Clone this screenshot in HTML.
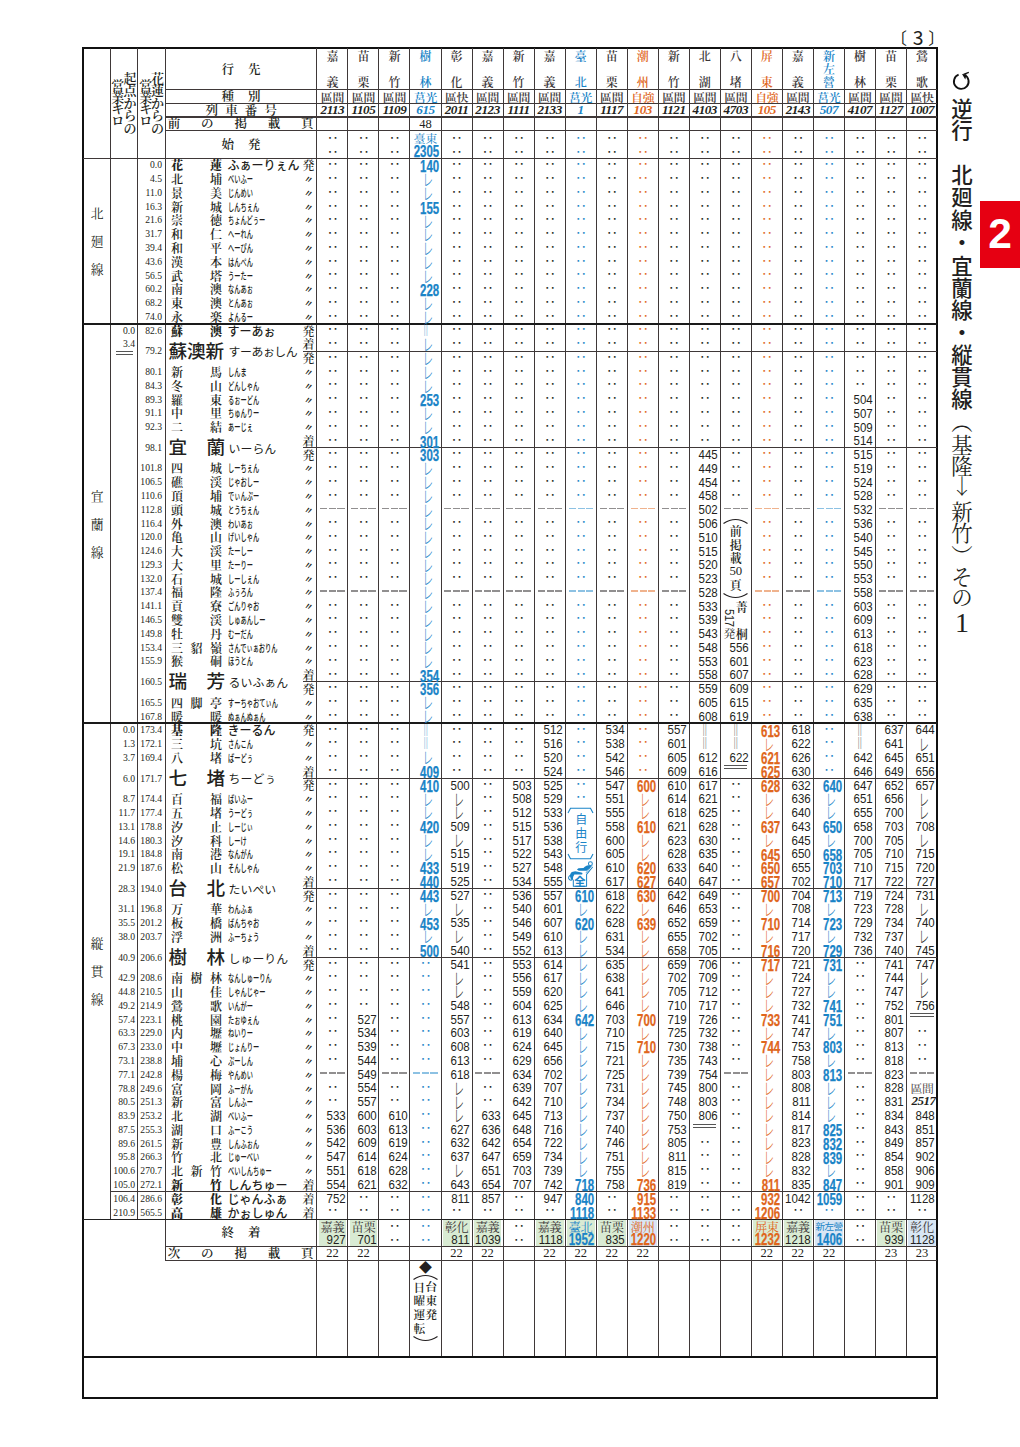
<!DOCTYPE html><html><head><meta charset="utf-8"><title>時刻表</title><style>
*{margin:0;padding:0;box-sizing:border-box}
html,body{width:1020px;height:1447px;background:#fff;overflow:hidden}
body{position:relative;color:#231f20;font-family:'Liberation Serif','Noto Serif CJK JP','Noto Serif CJK SC',serif}
.ln{position:absolute}
.a{position:absolute;white-space:nowrap}
.col{position:absolute;top:158.3px;width:31.03px}
.col>div{height:13.78px;line-height:13.78px;position:relative}
.t{font:13px/13.78px 'Liberation Sans','Noto Sans CJK JP','Noto Sans CJK SC',sans-serif;text-align:right;padding-right:2.6px;margin-left:-8px;transform:scaleX(.885);transform-origin:100% 50%;top:.8px}
.bb{font:bold 16px/13.78px 'Liberation Sans','Noto Sans CJK JP','Noto Sans CJK SC',sans-serif;text-align:right;padding-right:2.6px;margin-left:-16px;transform:scaleX(.716);transform-origin:100% 50%;-webkit-text-stroke:.25px currentColor;top:2.1px}
.d{font:bold 11px/13.78px 'Noto Sans CJK JP','Noto Sans CJK SC',sans-serif;text-align:center;padding-left:.6px;top:-1.1px}
.r{font:300 16.5px/13.78px 'Noto Sans CJK JP','Noto Sans CJK SC',sans-serif;text-align:center;padding-left:7.9px;transform:scaleX(.62);transform-origin:50% 50%;top:1.2px}
.v{font:12px/13.78px 'Noto Serif CJK JP','Noto Serif CJK SC',serif;text-align:center;transform:scaleX(1.25);opacity:.6;padding-left:.5px}
.h::before{content:'';position:absolute;left:3.4px;width:24.6px;top:50%;height:1.6px;margin-top:-1.7px;background:repeating-linear-gradient(90deg,currentColor 0 7.3px,transparent 7.3px 8.65px);opacity:.5}
.k{color:#231f20} .b{color:#1a84c7} .o{color:#e0661c}
.js{font-family:'Noto Serif CJK JP','Noto Serif CJK SC',serif}
.jg{font-family:'Noto Sans CJK JP','Noto Sans CJK SC',sans-serif}
.km{font:11.2px/13.78px 'Liberation Serif','Noto Serif CJK JP','Noto Serif CJK SC',serif;text-align:right;position:absolute;width:40px;transform:scaleX(.86);transform-origin:100% 50%}
.sn{font:600 12px/13.78px 'Noto Serif CJK JP','Noto Serif CJK SC',serif;position:absolute}
.rd{font:500 10.4px/13.78px 'Noto Sans CJK JP','Noto Sans CJK SC',sans-serif;position:absolute;transform:scaleX(.6);transform-origin:0 50%}
.rdb{font:500 12px/13.78px 'Noto Sans CJK JP','Noto Sans CJK SC',sans-serif;position:absolute}
.mk{font:700 12px/13.78px 'Noto Sans CJK JP','Noto Sans CJK SC',sans-serif;position:absolute;transform:rotate(20deg) scale(.7,.85)}
.mj{font:500 12px/13.78px 'Noto Serif CJK JP','Noto Serif CJK SC',serif;position:absolute}
</style></head><body>
<div class="ln" style="left:82px;top:47px;width:856px;height:2px;background:#111"></div>
<div class="ln" style="left:82px;top:1397px;width:856px;height:2px;background:#111"></div>
<div class="ln" style="left:82px;top:47px;width:2px;height:1352px;background:#111"></div>
<div class="ln" style="left:936px;top:47px;width:2px;height:1352px;background:#111"></div>
<div class="ln" style="left:110px;top:48px;width:1px;height:1172px;background:#3f3838"></div>
<div class="ln" style="left:137px;top:48px;width:1px;height:1172px;background:#3f3838"></div>
<div class="ln" style="left:165px;top:48px;width:1px;height:1213px;background:#3f3838"></div>
<div class="ln" style="left:316px;top:48px;width:1px;height:1309px;background:#3f3838"></div>
<div class="ln" style="left:347px;top:48px;width:1px;height:1309px;background:#3f3838"></div>
<div class="ln" style="left:378px;top:48px;width:1px;height:1309px;background:#3f3838"></div>
<div class="ln" style="left:409px;top:48px;width:1px;height:1309px;background:#3f3838"></div>
<div class="ln" style="left:441px;top:48px;width:1px;height:1309px;background:#3f3838"></div>
<div class="ln" style="left:472px;top:48px;width:1px;height:1309px;background:#3f3838"></div>
<div class="ln" style="left:503px;top:48px;width:1px;height:1309px;background:#3f3838"></div>
<div class="ln" style="left:534px;top:48px;width:1px;height:1309px;background:#3f3838"></div>
<div class="ln" style="left:565px;top:48px;width:1px;height:1309px;background:#3f3838"></div>
<div class="ln" style="left:596px;top:48px;width:1px;height:1309px;background:#3f3838"></div>
<div class="ln" style="left:627px;top:48px;width:1px;height:1309px;background:#3f3838"></div>
<div class="ln" style="left:658px;top:48px;width:1px;height:1309px;background:#3f3838"></div>
<div class="ln" style="left:689px;top:48px;width:1px;height:1309px;background:#3f3838"></div>
<div class="ln" style="left:720px;top:48px;width:1px;height:1309px;background:#3f3838"></div>
<div class="ln" style="left:751px;top:48px;width:1px;height:1309px;background:#3f3838"></div>
<div class="ln" style="left:782px;top:48px;width:1px;height:1309px;background:#3f3838"></div>
<div class="ln" style="left:813px;top:48px;width:1px;height:1309px;background:#3f3838"></div>
<div class="ln" style="left:844px;top:48px;width:1px;height:1309px;background:#3f3838"></div>
<div class="ln" style="left:875px;top:48px;width:1px;height:1309px;background:#3f3838"></div>
<div class="ln" style="left:906px;top:48px;width:1px;height:1309px;background:#3f3838"></div>
<div class="ln" style="left:166px;top:89px;width:771px;height:1px;background:#3f3838"></div>
<div class="ln" style="left:166px;top:103px;width:771px;height:1px;background:#3f3838"></div>
<div class="ln" style="left:166px;top:116px;width:771px;height:2px;background:#3f3838"></div>
<div class="ln" style="left:166px;top:130px;width:771px;height:1px;background:#3f3838"></div>
<div class="ln" style="left:83px;top:158px;width:854px;height:1px;background:#3f3838"></div>
<div class="ln" style="left:83px;top:323px;width:854px;height:2px;background:#1a1a1a"></div>
<div class="ln" style="left:83px;top:722px;width:854px;height:2px;background:#1a1a1a"></div>
<div class="ln" style="left:303px;top:351px;width:634px;height:1px;background:#3f3838"></div>
<div class="ln" style="left:303px;top:447px;width:634px;height:1px;background:#3f3838"></div>
<div class="ln" style="left:303px;top:681px;width:634px;height:1px;background:#3f3838"></div>
<div class="ln" style="left:303px;top:778px;width:634px;height:1px;background:#3f3838"></div>
<div class="ln" style="left:303px;top:888px;width:634px;height:1px;background:#3f3838"></div>
<div class="ln" style="left:303px;top:957px;width:634px;height:1px;background:#3f3838"></div>
<div class="ln" style="left:110px;top:1191px;width:827px;height:1px;background:#3f3838"></div>
<div class="ln" style="left:83px;top:1219px;width:854px;height:1px;background:#222"></div>
<div class="ln" style="left:166px;top:1246px;width:771px;height:1px;background:#3f3838"></div>
<div class="ln" style="left:166px;top:1260px;width:771px;height:1px;background:#3f3838"></div>
<div class="ln" style="left:83px;top:1356px;width:854px;height:2px;background:#111"></div>
<div class="a " style="left:221.5px;top:61.25px;font:600 12.5px/17.5px 'Noto Serif CJK JP','Noto Serif CJK SC',serif;width:12.5px;text-align:center;">行</div>
<div class="a " style="left:248px;top:61.25px;font:600 12.5px/17.5px 'Noto Serif CJK JP','Noto Serif CJK SC',serif;width:12.5px;text-align:center;">先</div>
<div class="a " style="left:221.5px;top:87.85px;font:600 12.5px/17.5px 'Noto Serif CJK JP','Noto Serif CJK SC',serif;width:12.5px;text-align:center;">種</div>
<div class="a " style="left:248px;top:87.85px;font:600 12.5px/17.5px 'Noto Serif CJK JP','Noto Serif CJK SC',serif;width:12.5px;text-align:center;">別</div>
<div class="a " style="left:205.5px;top:101.75px;font:600 12.5px/17.5px 'Noto Serif CJK JP','Noto Serif CJK SC',serif;width:12.5px;text-align:center;">列</div>
<div class="a " style="left:225.17px;top:101.75px;font:600 12.5px/17.5px 'Noto Serif CJK JP','Noto Serif CJK SC',serif;width:12.5px;text-align:center;">車</div>
<div class="a " style="left:244.83px;top:101.75px;font:600 12.5px/17.5px 'Noto Serif CJK JP','Noto Serif CJK SC',serif;width:12.5px;text-align:center;">番</div>
<div class="a " style="left:264.5px;top:101.75px;font:600 12.5px/17.5px 'Noto Serif CJK JP','Noto Serif CJK SC',serif;width:12.5px;text-align:center;">号</div>
<div class="a " style="left:167.8px;top:115.45px;font:600 12.5px/17.5px 'Noto Serif CJK JP','Noto Serif CJK SC',serif;width:12.5px;text-align:center;">前</div>
<div class="a " style="left:201.12px;top:115.45px;font:600 12.5px/17.5px 'Noto Serif CJK JP','Noto Serif CJK SC',serif;width:12.5px;text-align:center;">の</div>
<div class="a " style="left:234.45px;top:115.45px;font:600 12.5px/17.5px 'Noto Serif CJK JP','Noto Serif CJK SC',serif;width:12.5px;text-align:center;">掲</div>
<div class="a " style="left:267.78px;top:115.45px;font:600 12.5px/17.5px 'Noto Serif CJK JP','Noto Serif CJK SC',serif;width:12.5px;text-align:center;">載</div>
<div class="a " style="left:301.1px;top:115.45px;font:600 12.5px/17.5px 'Noto Serif CJK JP','Noto Serif CJK SC',serif;width:12.5px;text-align:center;">頁</div>
<div class="a " style="left:221.5px;top:136.25px;font:600 12.5px/17.5px 'Noto Serif CJK JP','Noto Serif CJK SC',serif;width:12.5px;text-align:center;">始</div>
<div class="a " style="left:248px;top:136.25px;font:600 12.5px/17.5px 'Noto Serif CJK JP','Noto Serif CJK SC',serif;width:12.5px;text-align:center;">発</div>
<div class="a " style="left:123.4px;top:69.9px;font:13px/15.6px 'Noto Serif CJK JP','Noto Serif CJK SC',serif;width:13px;text-align:center;color:#231f20;font-weight:600">起</div>
<div class="a " style="left:123.4px;top:82.35px;font:13px/15.6px 'Noto Serif CJK JP','Noto Serif CJK SC',serif;width:13px;text-align:center;color:#231f20;font-weight:600">点</div>
<div class="a " style="left:123.4px;top:94.8px;font:13px/15.6px 'Noto Serif CJK JP','Noto Serif CJK SC',serif;width:13px;text-align:center;color:#231f20;font-weight:600">か</div>
<div class="a " style="left:123.4px;top:107.25px;font:13px/15.6px 'Noto Serif CJK JP','Noto Serif CJK SC',serif;width:13px;text-align:center;color:#231f20;font-weight:600">ら</div>
<div class="a " style="left:123.4px;top:119.7px;font:13px/15.6px 'Noto Serif CJK JP','Noto Serif CJK SC',serif;width:13px;text-align:center;color:#231f20;font-weight:600">の</div>
<div class="a " style="left:111.2px;top:76.7px;font:13px/15.6px 'Noto Serif CJK JP','Noto Serif CJK SC',serif;width:13px;text-align:center;color:#231f20;font-weight:600">営</div>
<div class="a " style="left:111.2px;top:88.5px;font:13px/15.6px 'Noto Serif CJK JP','Noto Serif CJK SC',serif;width:13px;text-align:center;color:#231f20;font-weight:600">業</div>
<div class="a " style="left:111.2px;top:100.3px;font:13px/15.6px 'Noto Serif CJK JP','Noto Serif CJK SC',serif;width:13px;text-align:center;color:#231f20;font-weight:600">キ</div>
<div class="a " style="left:111.2px;top:112.1px;font:13px/15.6px 'Noto Serif CJK JP','Noto Serif CJK SC',serif;width:13px;text-align:center;color:#231f20;font-weight:600">ロ</div>
<div class="a " style="left:151px;top:69.9px;font:13px/15.6px 'Noto Serif CJK JP','Noto Serif CJK SC',serif;width:13px;text-align:center;color:#231f20;font-weight:600">花</div>
<div class="a " style="left:151px;top:82.35px;font:13px/15.6px 'Noto Serif CJK JP','Noto Serif CJK SC',serif;width:13px;text-align:center;color:#231f20;font-weight:600">蓮</div>
<div class="a " style="left:151px;top:94.8px;font:13px/15.6px 'Noto Serif CJK JP','Noto Serif CJK SC',serif;width:13px;text-align:center;color:#231f20;font-weight:600">か</div>
<div class="a " style="left:151px;top:107.25px;font:13px/15.6px 'Noto Serif CJK JP','Noto Serif CJK SC',serif;width:13px;text-align:center;color:#231f20;font-weight:600">ら</div>
<div class="a " style="left:151px;top:119.7px;font:13px/15.6px 'Noto Serif CJK JP','Noto Serif CJK SC',serif;width:13px;text-align:center;color:#231f20;font-weight:600">の</div>
<div class="a " style="left:139.2px;top:76.7px;font:13px/15.6px 'Noto Serif CJK JP','Noto Serif CJK SC',serif;width:13px;text-align:center;color:#231f20;font-weight:600">営</div>
<div class="a " style="left:139.2px;top:88.5px;font:13px/15.6px 'Noto Serif CJK JP','Noto Serif CJK SC',serif;width:13px;text-align:center;color:#231f20;font-weight:600">業</div>
<div class="a " style="left:139.2px;top:100.3px;font:13px/15.6px 'Noto Serif CJK JP','Noto Serif CJK SC',serif;width:13px;text-align:center;color:#231f20;font-weight:600">キ</div>
<div class="a " style="left:139.2px;top:112.1px;font:13px/15.6px 'Noto Serif CJK JP','Noto Serif CJK SC',serif;width:13px;text-align:center;color:#231f20;font-weight:600">ロ</div>
<div class="a " style="left:316.9px;top:49.3px;width:31.03px;text-align:center;font:600 12px/13px 'Noto Serif CJK JP','Noto Serif CJK SC',serif;color:#3a3536">嘉</div>
<div class="a " style="left:316.9px;top:75.2px;width:31.03px;text-align:center;font:600 12px/13px 'Noto Serif CJK JP','Noto Serif CJK SC',serif;color:#3a3536">義</div>
<div class="a " style="left:316.9px;top:89.6px;width:31.03px;text-align:center;font:600 11.9px/13px 'Noto Serif CJK JP','Noto Serif CJK SC',serif;color:#3a3536;letter-spacing:-.3px">區間</div>
<div class="a " style="left:316.9px;top:102.9px;width:31.03px;text-align:center;font:italic bold 13.2px/13.6px 'Liberation Serif','Noto Serif CJK JP','Noto Serif CJK SC',serif;color:#231f20;letter-spacing:-.5px">2113</div>
<div class="a " style="left:347.93px;top:49.3px;width:31.03px;text-align:center;font:600 12px/13px 'Noto Serif CJK JP','Noto Serif CJK SC',serif;color:#3a3536">苗</div>
<div class="a " style="left:347.93px;top:75.2px;width:31.03px;text-align:center;font:600 12px/13px 'Noto Serif CJK JP','Noto Serif CJK SC',serif;color:#3a3536">栗</div>
<div class="a " style="left:347.93px;top:89.6px;width:31.03px;text-align:center;font:600 11.9px/13px 'Noto Serif CJK JP','Noto Serif CJK SC',serif;color:#3a3536;letter-spacing:-.3px">區間</div>
<div class="a " style="left:347.93px;top:102.9px;width:31.03px;text-align:center;font:italic bold 13.2px/13.6px 'Liberation Serif','Noto Serif CJK JP','Noto Serif CJK SC',serif;color:#231f20;letter-spacing:-.5px">1105</div>
<div class="a " style="left:378.96px;top:49.3px;width:31.03px;text-align:center;font:600 12px/13px 'Noto Serif CJK JP','Noto Serif CJK SC',serif;color:#3a3536">新</div>
<div class="a " style="left:378.96px;top:75.2px;width:31.03px;text-align:center;font:600 12px/13px 'Noto Serif CJK JP','Noto Serif CJK SC',serif;color:#3a3536">竹</div>
<div class="a " style="left:378.96px;top:89.6px;width:31.03px;text-align:center;font:600 11.9px/13px 'Noto Serif CJK JP','Noto Serif CJK SC',serif;color:#3a3536;letter-spacing:-.3px">區間</div>
<div class="a " style="left:378.96px;top:102.9px;width:31.03px;text-align:center;font:italic bold 13.2px/13.6px 'Liberation Serif','Noto Serif CJK JP','Noto Serif CJK SC',serif;color:#231f20;letter-spacing:-.5px">1109</div>
<div class="a " style="left:409.99px;top:49.3px;width:31.03px;text-align:center;font:600 12px/13px 'Noto Serif CJK JP','Noto Serif CJK SC',serif;color:#1a84c7">樹</div>
<div class="a " style="left:409.99px;top:75.2px;width:31.03px;text-align:center;font:600 12px/13px 'Noto Serif CJK JP','Noto Serif CJK SC',serif;color:#1a84c7">林</div>
<div class="a " style="left:409.99px;top:89.6px;width:31.03px;text-align:center;font:600 11.9px/13px 'Noto Serif CJK JP','Noto Serif CJK SC',serif;color:#1a84c7;letter-spacing:-.3px">莒光</div>
<div class="a " style="left:409.99px;top:102.9px;width:31.03px;text-align:center;font:italic bold 13.2px/13.6px 'Liberation Serif','Noto Serif CJK JP','Noto Serif CJK SC',serif;color:#1a84c7;letter-spacing:-.5px">615</div>
<div class="a " style="left:441.02px;top:49.3px;width:31.03px;text-align:center;font:600 12px/13px 'Noto Serif CJK JP','Noto Serif CJK SC',serif;color:#3a3536">彰</div>
<div class="a " style="left:441.02px;top:75.2px;width:31.03px;text-align:center;font:600 12px/13px 'Noto Serif CJK JP','Noto Serif CJK SC',serif;color:#3a3536">化</div>
<div class="a " style="left:441.02px;top:89.6px;width:31.03px;text-align:center;font:600 11.9px/13px 'Noto Serif CJK JP','Noto Serif CJK SC',serif;color:#3a3536;letter-spacing:-.3px">區快</div>
<div class="a " style="left:441.02px;top:102.9px;width:31.03px;text-align:center;font:italic bold 13.2px/13.6px 'Liberation Serif','Noto Serif CJK JP','Noto Serif CJK SC',serif;color:#231f20;letter-spacing:-.5px">2011</div>
<div class="a " style="left:472.05px;top:49.3px;width:31.03px;text-align:center;font:600 12px/13px 'Noto Serif CJK JP','Noto Serif CJK SC',serif;color:#3a3536">嘉</div>
<div class="a " style="left:472.05px;top:75.2px;width:31.03px;text-align:center;font:600 12px/13px 'Noto Serif CJK JP','Noto Serif CJK SC',serif;color:#3a3536">義</div>
<div class="a " style="left:472.05px;top:89.6px;width:31.03px;text-align:center;font:600 11.9px/13px 'Noto Serif CJK JP','Noto Serif CJK SC',serif;color:#3a3536;letter-spacing:-.3px">區間</div>
<div class="a " style="left:472.05px;top:102.9px;width:31.03px;text-align:center;font:italic bold 13.2px/13.6px 'Liberation Serif','Noto Serif CJK JP','Noto Serif CJK SC',serif;color:#231f20;letter-spacing:-.5px">2123</div>
<div class="a " style="left:503.08px;top:49.3px;width:31.03px;text-align:center;font:600 12px/13px 'Noto Serif CJK JP','Noto Serif CJK SC',serif;color:#3a3536">新</div>
<div class="a " style="left:503.08px;top:75.2px;width:31.03px;text-align:center;font:600 12px/13px 'Noto Serif CJK JP','Noto Serif CJK SC',serif;color:#3a3536">竹</div>
<div class="a " style="left:503.08px;top:89.6px;width:31.03px;text-align:center;font:600 11.9px/13px 'Noto Serif CJK JP','Noto Serif CJK SC',serif;color:#3a3536;letter-spacing:-.3px">區間</div>
<div class="a " style="left:503.08px;top:102.9px;width:31.03px;text-align:center;font:italic bold 13.2px/13.6px 'Liberation Serif','Noto Serif CJK JP','Noto Serif CJK SC',serif;color:#231f20;letter-spacing:-.5px">1111</div>
<div class="a " style="left:534.11px;top:49.3px;width:31.03px;text-align:center;font:600 12px/13px 'Noto Serif CJK JP','Noto Serif CJK SC',serif;color:#3a3536">嘉</div>
<div class="a " style="left:534.11px;top:75.2px;width:31.03px;text-align:center;font:600 12px/13px 'Noto Serif CJK JP','Noto Serif CJK SC',serif;color:#3a3536">義</div>
<div class="a " style="left:534.11px;top:89.6px;width:31.03px;text-align:center;font:600 11.9px/13px 'Noto Serif CJK JP','Noto Serif CJK SC',serif;color:#3a3536;letter-spacing:-.3px">區間</div>
<div class="a " style="left:534.11px;top:102.9px;width:31.03px;text-align:center;font:italic bold 13.2px/13.6px 'Liberation Serif','Noto Serif CJK JP','Noto Serif CJK SC',serif;color:#231f20;letter-spacing:-.5px">2133</div>
<div class="a " style="left:565.14px;top:49.3px;width:31.03px;text-align:center;font:600 12px/13px 'Noto Serif CJK JP','Noto Serif CJK SC',serif;color:#1a84c7">臺</div>
<div class="a " style="left:565.14px;top:75.2px;width:31.03px;text-align:center;font:600 12px/13px 'Noto Serif CJK JP','Noto Serif CJK SC',serif;color:#1a84c7">北</div>
<div class="a " style="left:565.14px;top:89.6px;width:31.03px;text-align:center;font:600 11.9px/13px 'Noto Serif CJK JP','Noto Serif CJK SC',serif;color:#1a84c7;letter-spacing:-.3px">莒光</div>
<div class="a " style="left:565.14px;top:102.9px;width:31.03px;text-align:center;font:italic bold 13.2px/13.6px 'Liberation Serif','Noto Serif CJK JP','Noto Serif CJK SC',serif;color:#1a84c7;letter-spacing:-.5px">1</div>
<div class="a " style="left:596.17px;top:49.3px;width:31.03px;text-align:center;font:600 12px/13px 'Noto Serif CJK JP','Noto Serif CJK SC',serif;color:#3a3536">苗</div>
<div class="a " style="left:596.17px;top:75.2px;width:31.03px;text-align:center;font:600 12px/13px 'Noto Serif CJK JP','Noto Serif CJK SC',serif;color:#3a3536">栗</div>
<div class="a " style="left:596.17px;top:89.6px;width:31.03px;text-align:center;font:600 11.9px/13px 'Noto Serif CJK JP','Noto Serif CJK SC',serif;color:#3a3536;letter-spacing:-.3px">區間</div>
<div class="a " style="left:596.17px;top:102.9px;width:31.03px;text-align:center;font:italic bold 13.2px/13.6px 'Liberation Serif','Noto Serif CJK JP','Noto Serif CJK SC',serif;color:#231f20;letter-spacing:-.5px">1117</div>
<div class="a " style="left:627.2px;top:49.3px;width:31.03px;text-align:center;font:600 12px/13px 'Noto Serif CJK JP','Noto Serif CJK SC',serif;color:#e0661c">潮</div>
<div class="a " style="left:627.2px;top:75.2px;width:31.03px;text-align:center;font:600 12px/13px 'Noto Serif CJK JP','Noto Serif CJK SC',serif;color:#e0661c">州</div>
<div class="a " style="left:627.2px;top:89.6px;width:31.03px;text-align:center;font:600 11.9px/13px 'Noto Serif CJK JP','Noto Serif CJK SC',serif;color:#e0661c;letter-spacing:-.3px">自強</div>
<div class="a " style="left:627.2px;top:102.9px;width:31.03px;text-align:center;font:italic bold 13.2px/13.6px 'Liberation Serif','Noto Serif CJK JP','Noto Serif CJK SC',serif;color:#e0661c;letter-spacing:-.5px">103</div>
<div class="a " style="left:658.23px;top:49.3px;width:31.03px;text-align:center;font:600 12px/13px 'Noto Serif CJK JP','Noto Serif CJK SC',serif;color:#3a3536">新</div>
<div class="a " style="left:658.23px;top:75.2px;width:31.03px;text-align:center;font:600 12px/13px 'Noto Serif CJK JP','Noto Serif CJK SC',serif;color:#3a3536">竹</div>
<div class="a " style="left:658.23px;top:89.6px;width:31.03px;text-align:center;font:600 11.9px/13px 'Noto Serif CJK JP','Noto Serif CJK SC',serif;color:#3a3536;letter-spacing:-.3px">區間</div>
<div class="a " style="left:658.23px;top:102.9px;width:31.03px;text-align:center;font:italic bold 13.2px/13.6px 'Liberation Serif','Noto Serif CJK JP','Noto Serif CJK SC',serif;color:#231f20;letter-spacing:-.5px">1121</div>
<div class="a " style="left:689.26px;top:49.3px;width:31.03px;text-align:center;font:600 12px/13px 'Noto Serif CJK JP','Noto Serif CJK SC',serif;color:#3a3536">北</div>
<div class="a " style="left:689.26px;top:75.2px;width:31.03px;text-align:center;font:600 12px/13px 'Noto Serif CJK JP','Noto Serif CJK SC',serif;color:#3a3536">湖</div>
<div class="a " style="left:689.26px;top:89.6px;width:31.03px;text-align:center;font:600 11.9px/13px 'Noto Serif CJK JP','Noto Serif CJK SC',serif;color:#3a3536;letter-spacing:-.3px">區間</div>
<div class="a " style="left:689.26px;top:102.9px;width:31.03px;text-align:center;font:italic bold 13.2px/13.6px 'Liberation Serif','Noto Serif CJK JP','Noto Serif CJK SC',serif;color:#231f20;letter-spacing:-.5px">4103</div>
<div class="a " style="left:720.29px;top:49.3px;width:31.03px;text-align:center;font:600 12px/13px 'Noto Serif CJK JP','Noto Serif CJK SC',serif;color:#3a3536">八</div>
<div class="a " style="left:720.29px;top:75.2px;width:31.03px;text-align:center;font:600 12px/13px 'Noto Serif CJK JP','Noto Serif CJK SC',serif;color:#3a3536">堵</div>
<div class="a " style="left:720.29px;top:89.6px;width:31.03px;text-align:center;font:600 11.9px/13px 'Noto Serif CJK JP','Noto Serif CJK SC',serif;color:#3a3536;letter-spacing:-.3px">區間</div>
<div class="a " style="left:720.29px;top:102.9px;width:31.03px;text-align:center;font:italic bold 13.2px/13.6px 'Liberation Serif','Noto Serif CJK JP','Noto Serif CJK SC',serif;color:#231f20;letter-spacing:-.5px">4703</div>
<div class="a " style="left:751.32px;top:49.3px;width:31.03px;text-align:center;font:600 12px/13px 'Noto Serif CJK JP','Noto Serif CJK SC',serif;color:#e0661c">屏</div>
<div class="a " style="left:751.32px;top:75.2px;width:31.03px;text-align:center;font:600 12px/13px 'Noto Serif CJK JP','Noto Serif CJK SC',serif;color:#e0661c">東</div>
<div class="a " style="left:751.32px;top:89.6px;width:31.03px;text-align:center;font:600 11.9px/13px 'Noto Serif CJK JP','Noto Serif CJK SC',serif;color:#e0661c;letter-spacing:-.3px">自強</div>
<div class="a " style="left:751.32px;top:102.9px;width:31.03px;text-align:center;font:italic bold 13.2px/13.6px 'Liberation Serif','Noto Serif CJK JP','Noto Serif CJK SC',serif;color:#e0661c;letter-spacing:-.5px">105</div>
<div class="a " style="left:782.35px;top:49.3px;width:31.03px;text-align:center;font:600 12px/13px 'Noto Serif CJK JP','Noto Serif CJK SC',serif;color:#3a3536">嘉</div>
<div class="a " style="left:782.35px;top:75.2px;width:31.03px;text-align:center;font:600 12px/13px 'Noto Serif CJK JP','Noto Serif CJK SC',serif;color:#3a3536">義</div>
<div class="a " style="left:782.35px;top:89.6px;width:31.03px;text-align:center;font:600 11.9px/13px 'Noto Serif CJK JP','Noto Serif CJK SC',serif;color:#3a3536;letter-spacing:-.3px">區間</div>
<div class="a " style="left:782.35px;top:102.9px;width:31.03px;text-align:center;font:italic bold 13.2px/13.6px 'Liberation Serif','Noto Serif CJK JP','Noto Serif CJK SC',serif;color:#231f20;letter-spacing:-.5px">2143</div>
<div class="a " style="left:813.38px;top:49px;width:31.03px;text-align:center;font:600 12px/13px 'Noto Serif CJK JP','Noto Serif CJK SC',serif;color:#1a84c7">新</div>
<div class="a " style="left:813.38px;top:62.2px;width:31.03px;text-align:center;font:600 12px/13px 'Noto Serif CJK JP','Noto Serif CJK SC',serif;color:#1a84c7">左</div>
<div class="a " style="left:813.38px;top:75.4px;width:31.03px;text-align:center;font:600 12px/13px 'Noto Serif CJK JP','Noto Serif CJK SC',serif;color:#1a84c7">營</div>
<div class="a " style="left:813.38px;top:89.6px;width:31.03px;text-align:center;font:600 11.9px/13px 'Noto Serif CJK JP','Noto Serif CJK SC',serif;color:#1a84c7;letter-spacing:-.3px">莒光</div>
<div class="a " style="left:813.38px;top:102.9px;width:31.03px;text-align:center;font:italic bold 13.2px/13.6px 'Liberation Serif','Noto Serif CJK JP','Noto Serif CJK SC',serif;color:#1a84c7;letter-spacing:-.5px">507</div>
<div class="a " style="left:844.41px;top:49.3px;width:31.03px;text-align:center;font:600 12px/13px 'Noto Serif CJK JP','Noto Serif CJK SC',serif;color:#3a3536">樹</div>
<div class="a " style="left:844.41px;top:75.2px;width:31.03px;text-align:center;font:600 12px/13px 'Noto Serif CJK JP','Noto Serif CJK SC',serif;color:#3a3536">林</div>
<div class="a " style="left:844.41px;top:89.6px;width:31.03px;text-align:center;font:600 11.9px/13px 'Noto Serif CJK JP','Noto Serif CJK SC',serif;color:#3a3536;letter-spacing:-.3px">區間</div>
<div class="a " style="left:844.41px;top:102.9px;width:31.03px;text-align:center;font:italic bold 13.2px/13.6px 'Liberation Serif','Noto Serif CJK JP','Noto Serif CJK SC',serif;color:#231f20;letter-spacing:-.5px">4107</div>
<div class="a " style="left:875.44px;top:49.3px;width:31.03px;text-align:center;font:600 12px/13px 'Noto Serif CJK JP','Noto Serif CJK SC',serif;color:#3a3536">苗</div>
<div class="a " style="left:875.44px;top:75.2px;width:31.03px;text-align:center;font:600 12px/13px 'Noto Serif CJK JP','Noto Serif CJK SC',serif;color:#3a3536">栗</div>
<div class="a " style="left:875.44px;top:89.6px;width:31.03px;text-align:center;font:600 11.9px/13px 'Noto Serif CJK JP','Noto Serif CJK SC',serif;color:#3a3536;letter-spacing:-.3px">區間</div>
<div class="a " style="left:875.44px;top:102.9px;width:31.03px;text-align:center;font:italic bold 13.2px/13.6px 'Liberation Serif','Noto Serif CJK JP','Noto Serif CJK SC',serif;color:#231f20;letter-spacing:-.5px">1127</div>
<div class="a " style="left:906.47px;top:49.3px;width:31.03px;text-align:center;font:600 12px/13px 'Noto Serif CJK JP','Noto Serif CJK SC',serif;color:#3a3536">鶯</div>
<div class="a " style="left:906.47px;top:75.2px;width:31.03px;text-align:center;font:600 12px/13px 'Noto Serif CJK JP','Noto Serif CJK SC',serif;color:#3a3536">歌</div>
<div class="a " style="left:906.47px;top:89.6px;width:31.03px;text-align:center;font:600 11.9px/13px 'Noto Serif CJK JP','Noto Serif CJK SC',serif;color:#3a3536;letter-spacing:-.3px">區快</div>
<div class="a " style="left:906.47px;top:102.9px;width:31.03px;text-align:center;font:italic bold 13.2px/13.6px 'Liberation Serif','Noto Serif CJK JP','Noto Serif CJK SC',serif;color:#231f20;letter-spacing:-.5px">1007</div>
<div class="a " style="left:409.99px;top:117.6px;width:31.03px;text-align:center;font:12.5px/13.2px 'Liberation Serif','Noto Serif CJK JP','Noto Serif CJK SC',serif">48</div>
<div class="a d k" style="left:316.9px;top:130.74px;width:31.03px;height:13.78px">‥</div>
<div class="a d k" style="left:316.9px;top:144.52px;width:31.03px;height:13.78px">‥</div>
<div class="a d k" style="left:347.93px;top:130.74px;width:31.03px;height:13.78px">‥</div>
<div class="a d k" style="left:347.93px;top:144.52px;width:31.03px;height:13.78px">‥</div>
<div class="a d k" style="left:378.96px;top:130.74px;width:31.03px;height:13.78px">‥</div>
<div class="a d k" style="left:378.96px;top:144.52px;width:31.03px;height:13.78px">‥</div>
<div class="a " style="left:409.99px;top:131px;width:31.03px;text-align:center;font:11.8px/13.5px 'Noto Serif CJK JP','Noto Serif CJK SC',serif;color:#1a84c7">臺東</div>
<div class="a bb b" style="left:409.99px;top:144.52px;width:47.03px;height:13.78px">2305</div>
<div class="a d k" style="left:441.02px;top:130.74px;width:31.03px;height:13.78px">‥</div>
<div class="a d k" style="left:441.02px;top:144.52px;width:31.03px;height:13.78px">‥</div>
<div class="a d k" style="left:472.05px;top:130.74px;width:31.03px;height:13.78px">‥</div>
<div class="a d k" style="left:472.05px;top:144.52px;width:31.03px;height:13.78px">‥</div>
<div class="a d k" style="left:503.08px;top:130.74px;width:31.03px;height:13.78px">‥</div>
<div class="a d k" style="left:503.08px;top:144.52px;width:31.03px;height:13.78px">‥</div>
<div class="a d k" style="left:534.11px;top:130.74px;width:31.03px;height:13.78px">‥</div>
<div class="a d k" style="left:534.11px;top:144.52px;width:31.03px;height:13.78px">‥</div>
<div class="a d b" style="left:565.14px;top:130.74px;width:31.03px;height:13.78px">‥</div>
<div class="a d b" style="left:565.14px;top:144.52px;width:31.03px;height:13.78px">‥</div>
<div class="a d k" style="left:596.17px;top:130.74px;width:31.03px;height:13.78px">‥</div>
<div class="a d k" style="left:596.17px;top:144.52px;width:31.03px;height:13.78px">‥</div>
<div class="a d o" style="left:627.2px;top:130.74px;width:31.03px;height:13.78px">‥</div>
<div class="a d o" style="left:627.2px;top:144.52px;width:31.03px;height:13.78px">‥</div>
<div class="a d k" style="left:658.23px;top:130.74px;width:31.03px;height:13.78px">‥</div>
<div class="a d k" style="left:658.23px;top:144.52px;width:31.03px;height:13.78px">‥</div>
<div class="a d k" style="left:689.26px;top:130.74px;width:31.03px;height:13.78px">‥</div>
<div class="a d k" style="left:689.26px;top:144.52px;width:31.03px;height:13.78px">‥</div>
<div class="a d k" style="left:720.29px;top:130.74px;width:31.03px;height:13.78px">‥</div>
<div class="a d k" style="left:720.29px;top:144.52px;width:31.03px;height:13.78px">‥</div>
<div class="a d o" style="left:751.32px;top:130.74px;width:31.03px;height:13.78px">‥</div>
<div class="a d o" style="left:751.32px;top:144.52px;width:31.03px;height:13.78px">‥</div>
<div class="a d k" style="left:782.35px;top:130.74px;width:31.03px;height:13.78px">‥</div>
<div class="a d k" style="left:782.35px;top:144.52px;width:31.03px;height:13.78px">‥</div>
<div class="a d b" style="left:813.38px;top:130.74px;width:31.03px;height:13.78px">‥</div>
<div class="a d b" style="left:813.38px;top:144.52px;width:31.03px;height:13.78px">‥</div>
<div class="a d k" style="left:844.41px;top:130.74px;width:31.03px;height:13.78px">‥</div>
<div class="a d k" style="left:844.41px;top:144.52px;width:31.03px;height:13.78px">‥</div>
<div class="a d k" style="left:875.44px;top:130.74px;width:31.03px;height:13.78px">‥</div>
<div class="a d k" style="left:875.44px;top:144.52px;width:31.03px;height:13.78px">‥</div>
<div class="a d k" style="left:906.47px;top:130.74px;width:31.03px;height:13.78px">‥</div>
<div class="a d k" style="left:906.47px;top:144.52px;width:31.03px;height:13.78px">‥</div>
<div class="col k" style="left:316.9px"><div class="d">‥</div><div class="d">‥</div><div class="d">‥</div><div class="d">‥</div><div class="d">‥</div><div class="d">‥</div><div class="d">‥</div><div class="d">‥</div><div class="d">‥</div><div class="d">‥</div><div class="d">‥</div><div class="d">‥</div><div class="d">‥</div><div class="d">‥</div><div class="d">‥</div><div class="d">‥</div><div class="d">‥</div><div class="d">‥</div><div class="d">‥</div><div class="d">‥</div><div class="d">‥</div><div class="d">‥</div><div class="d">‥</div><div class="d">‥</div><div class="d">‥</div><div class="h"></div><div class="d">‥</div><div class="d">‥</div><div class="d">‥</div><div class="d">‥</div><div class="d">‥</div><div class="h"></div><div class="d">‥</div><div class="d">‥</div><div class="d">‥</div><div class="d">‥</div><div class="d">‥</div><div class="d">‥</div><div class="d">‥</div><div class="d">‥</div><div class="d">‥</div><div class="d">‥</div><div class="d">‥</div><div class="d">‥</div><div class="d">‥</div><div class="d">‥</div><div class="d">‥</div><div class="d">‥</div><div class="d">‥</div><div class="d">‥</div><div class="d">‥</div><div class="d">‥</div><div class="d">‥</div><div class="d">‥</div><div class="d">‥</div><div class="d">‥</div><div class="d">‥</div><div class="d">‥</div><div class="d">‥</div><div class="d">‥</div><div class="d">‥</div><div class="d">‥</div><div class="d">‥</div><div class="d">‥</div><div class="d">‥</div><div class="d">‥</div><div class="h"></div><div class="d">‥</div><div class="d">‥</div><div class="t">533</div><div class="t">536</div><div class="t">542</div><div class="t">547</div><div class="t">551</div><div class="t">554</div><div class="t">752</div><div class="d">‥</div></div>
<div class="col k" style="left:347.93px"><div class="d">‥</div><div class="d">‥</div><div class="d">‥</div><div class="d">‥</div><div class="d">‥</div><div class="d">‥</div><div class="d">‥</div><div class="d">‥</div><div class="d">‥</div><div class="d">‥</div><div class="d">‥</div><div class="d">‥</div><div class="d">‥</div><div class="d">‥</div><div class="d">‥</div><div class="d">‥</div><div class="d">‥</div><div class="d">‥</div><div class="d">‥</div><div class="d">‥</div><div class="d">‥</div><div class="d">‥</div><div class="d">‥</div><div class="d">‥</div><div class="d">‥</div><div class="h"></div><div class="d">‥</div><div class="d">‥</div><div class="d">‥</div><div class="d">‥</div><div class="d">‥</div><div class="h"></div><div class="d">‥</div><div class="d">‥</div><div class="d">‥</div><div class="d">‥</div><div class="d">‥</div><div class="d">‥</div><div class="d">‥</div><div class="d">‥</div><div class="d">‥</div><div class="d">‥</div><div class="d">‥</div><div class="d">‥</div><div class="d">‥</div><div class="d">‥</div><div class="d">‥</div><div class="d">‥</div><div class="d">‥</div><div class="d">‥</div><div class="d">‥</div><div class="d">‥</div><div class="d">‥</div><div class="d">‥</div><div class="d">‥</div><div class="d">‥</div><div class="d">‥</div><div class="d">‥</div><div class="d">‥</div><div class="d">‥</div><div class="d">‥</div><div class="d">‥</div><div class="t">527</div><div class="t">534</div><div class="t">539</div><div class="t">544</div><div class="t">549</div><div class="t">554</div><div class="t">557</div><div class="t">600</div><div class="t">603</div><div class="t">609</div><div class="t">614</div><div class="t">618</div><div class="t">621</div><div class="d">‥</div><div class="d">‥</div></div>
<div class="col k" style="left:378.96px"><div class="d">‥</div><div class="d">‥</div><div class="d">‥</div><div class="d">‥</div><div class="d">‥</div><div class="d">‥</div><div class="d">‥</div><div class="d">‥</div><div class="d">‥</div><div class="d">‥</div><div class="d">‥</div><div class="d">‥</div><div class="d">‥</div><div class="d">‥</div><div class="d">‥</div><div class="d">‥</div><div class="d">‥</div><div class="d">‥</div><div class="d">‥</div><div class="d">‥</div><div class="d">‥</div><div class="d">‥</div><div class="d">‥</div><div class="d">‥</div><div class="d">‥</div><div class="h"></div><div class="d">‥</div><div class="d">‥</div><div class="d">‥</div><div class="d">‥</div><div class="d">‥</div><div class="h"></div><div class="d">‥</div><div class="d">‥</div><div class="d">‥</div><div class="d">‥</div><div class="d">‥</div><div class="d">‥</div><div class="d">‥</div><div class="d">‥</div><div class="d">‥</div><div class="d">‥</div><div class="d">‥</div><div class="d">‥</div><div class="d">‥</div><div class="d">‥</div><div class="d">‥</div><div class="d">‥</div><div class="d">‥</div><div class="d">‥</div><div class="d">‥</div><div class="d">‥</div><div class="d">‥</div><div class="d">‥</div><div class="d">‥</div><div class="d">‥</div><div class="d">‥</div><div class="d">‥</div><div class="d">‥</div><div class="d">‥</div><div class="d">‥</div><div class="d">‥</div><div class="d">‥</div><div class="d">‥</div><div class="d">‥</div><div class="d">‥</div><div class="h"></div><div class="d">‥</div><div class="d">‥</div><div class="t">610</div><div class="t">613</div><div class="t">619</div><div class="t">624</div><div class="t">628</div><div class="t">632</div><div class="d">‥</div><div class="d">‥</div></div>
<div class="col b" style="left:409.99px"><div class="bb">140</div><div class="r">レ</div><div class="r">レ</div><div class="bb">155</div><div class="r">レ</div><div class="r">レ</div><div class="r">レ</div><div class="r">レ</div><div class="r">レ</div><div class="bb">228</div><div class="r">レ</div><div class="r">レ</div><div class="v">‖</div><div class="r">レ</div><div class="r">レ</div><div class="r">レ</div><div class="r">レ</div><div class="bb">253</div><div class="r">レ</div><div class="r">レ</div><div class="bb">301</div><div class="bb">303</div><div class="r">レ</div><div class="r">レ</div><div class="r">レ</div><div class="r">レ</div><div class="r">レ</div><div class="r">レ</div><div class="r">レ</div><div class="r">レ</div><div class="r">レ</div><div class="r">レ</div><div class="r">レ</div><div class="r">レ</div><div class="r">レ</div><div class="r">レ</div><div class="r">レ</div><div class="bb">354</div><div class="bb">356</div><div class="r">レ</div><div class="r">レ</div><div class="v">‖</div><div class="v">‖</div><div class="r">レ</div><div class="bb">409</div><div class="bb">410</div><div class="r">レ</div><div class="r">レ</div><div class="bb">420</div><div class="r">レ</div><div class="r">レ</div><div class="bb">433</div><div class="bb">440</div><div class="bb">443</div><div class="r">レ</div><div class="bb">453</div><div class="r">レ</div><div class="bb">500</div><div class="d">‥</div><div class="d">‥</div><div class="d">‥</div><div class="d">‥</div><div class="d">‥</div><div class="d">‥</div><div class="d">‥</div><div class="d">‥</div><div class="h"></div><div class="d">‥</div><div class="d">‥</div><div class="d">‥</div><div class="d">‥</div><div class="d">‥</div><div class="d">‥</div><div class="d">‥</div><div class="d">‥</div><div class="d">‥</div><div class="d">‥</div></div>
<div class="col k" style="left:441.02px"><div class="d">‥</div><div class="d">‥</div><div class="d">‥</div><div class="d">‥</div><div class="d">‥</div><div class="d">‥</div><div class="d">‥</div><div class="d">‥</div><div class="d">‥</div><div class="d">‥</div><div class="d">‥</div><div class="d">‥</div><div class="d">‥</div><div class="d">‥</div><div class="d">‥</div><div class="d">‥</div><div class="d">‥</div><div class="d">‥</div><div class="d">‥</div><div class="d">‥</div><div class="d">‥</div><div class="d">‥</div><div class="d">‥</div><div class="d">‥</div><div class="d">‥</div><div class="h"></div><div class="d">‥</div><div class="d">‥</div><div class="d">‥</div><div class="d">‥</div><div class="d">‥</div><div class="h"></div><div class="d">‥</div><div class="d">‥</div><div class="d">‥</div><div class="d">‥</div><div class="d">‥</div><div class="d">‥</div><div class="d">‥</div><div class="d">‥</div><div class="d">‥</div><div class="d">‥</div><div class="d">‥</div><div class="d">‥</div><div class="d">‥</div><div class="t">500</div><div class="r">レ</div><div class="r">レ</div><div class="t">509</div><div class="r">レ</div><div class="t">515</div><div class="t">519</div><div class="t">525</div><div class="t">527</div><div class="r">レ</div><div class="t">535</div><div class="r">レ</div><div class="t">540</div><div class="t">541</div><div class="r">レ</div><div class="r">レ</div><div class="t">548</div><div class="t">557</div><div class="t">603</div><div class="t">608</div><div class="t">613</div><div class="t">618</div><div class="r">レ</div><div class="r">レ</div><div class="r">レ</div><div class="t">627</div><div class="t">632</div><div class="t">637</div><div class="r">レ</div><div class="t">643</div><div class="t">811</div><div class="d">‥</div></div>
<div class="col k" style="left:472.05px"><div class="d">‥</div><div class="d">‥</div><div class="d">‥</div><div class="d">‥</div><div class="d">‥</div><div class="d">‥</div><div class="d">‥</div><div class="d">‥</div><div class="d">‥</div><div class="d">‥</div><div class="d">‥</div><div class="d">‥</div><div class="d">‥</div><div class="d">‥</div><div class="d">‥</div><div class="d">‥</div><div class="d">‥</div><div class="d">‥</div><div class="d">‥</div><div class="d">‥</div><div class="d">‥</div><div class="d">‥</div><div class="d">‥</div><div class="d">‥</div><div class="d">‥</div><div class="h"></div><div class="d">‥</div><div class="d">‥</div><div class="d">‥</div><div class="d">‥</div><div class="d">‥</div><div class="h"></div><div class="d">‥</div><div class="d">‥</div><div class="d">‥</div><div class="d">‥</div><div class="d">‥</div><div class="d">‥</div><div class="d">‥</div><div class="d">‥</div><div class="d">‥</div><div class="d">‥</div><div class="d">‥</div><div class="d">‥</div><div class="d">‥</div><div class="d">‥</div><div class="d">‥</div><div class="d">‥</div><div class="d">‥</div><div class="d">‥</div><div class="d">‥</div><div class="d">‥</div><div class="d">‥</div><div class="d">‥</div><div class="d">‥</div><div class="d">‥</div><div class="d">‥</div><div class="d">‥</div><div class="d">‥</div><div class="d">‥</div><div class="d">‥</div><div class="d">‥</div><div class="d">‥</div><div class="d">‥</div><div class="d">‥</div><div class="d">‥</div><div class="h"></div><div class="d">‥</div><div class="d">‥</div><div class="t">633</div><div class="t">636</div><div class="t">642</div><div class="t">647</div><div class="t">651</div><div class="t">654</div><div class="t">857</div><div class="d">‥</div></div>
<div class="col k" style="left:503.08px"><div class="d">‥</div><div class="d">‥</div><div class="d">‥</div><div class="d">‥</div><div class="d">‥</div><div class="d">‥</div><div class="d">‥</div><div class="d">‥</div><div class="d">‥</div><div class="d">‥</div><div class="d">‥</div><div class="d">‥</div><div class="d">‥</div><div class="d">‥</div><div class="d">‥</div><div class="d">‥</div><div class="d">‥</div><div class="d">‥</div><div class="d">‥</div><div class="d">‥</div><div class="d">‥</div><div class="d">‥</div><div class="d">‥</div><div class="d">‥</div><div class="d">‥</div><div class="h"></div><div class="d">‥</div><div class="d">‥</div><div class="d">‥</div><div class="d">‥</div><div class="d">‥</div><div class="h"></div><div class="d">‥</div><div class="d">‥</div><div class="d">‥</div><div class="d">‥</div><div class="d">‥</div><div class="d">‥</div><div class="d">‥</div><div class="d">‥</div><div class="d">‥</div><div class="d">‥</div><div class="d">‥</div><div class="d">‥</div><div class="d">‥</div><div class="t">503</div><div class="t">508</div><div class="t">512</div><div class="t">515</div><div class="t">517</div><div class="t">522</div><div class="t">527</div><div class="t">534</div><div class="t">536</div><div class="t">540</div><div class="t">546</div><div class="t">549</div><div class="t">552</div><div class="t">553</div><div class="t">556</div><div class="t">559</div><div class="t">604</div><div class="t">613</div><div class="t">619</div><div class="t">624</div><div class="t">629</div><div class="t">634</div><div class="t">639</div><div class="t">642</div><div class="t">645</div><div class="t">648</div><div class="t">654</div><div class="t">659</div><div class="t">703</div><div class="t">707</div><div class="d">‥</div><div class="d">‥</div></div>
<div class="col k" style="left:534.11px"><div class="d">‥</div><div class="d">‥</div><div class="d">‥</div><div class="d">‥</div><div class="d">‥</div><div class="d">‥</div><div class="d">‥</div><div class="d">‥</div><div class="d">‥</div><div class="d">‥</div><div class="d">‥</div><div class="d">‥</div><div class="d">‥</div><div class="d">‥</div><div class="d">‥</div><div class="d">‥</div><div class="d">‥</div><div class="d">‥</div><div class="d">‥</div><div class="d">‥</div><div class="d">‥</div><div class="d">‥</div><div class="d">‥</div><div class="d">‥</div><div class="d">‥</div><div class="h"></div><div class="d">‥</div><div class="d">‥</div><div class="d">‥</div><div class="d">‥</div><div class="d">‥</div><div class="h"></div><div class="d">‥</div><div class="d">‥</div><div class="d">‥</div><div class="d">‥</div><div class="d">‥</div><div class="d">‥</div><div class="d">‥</div><div class="d">‥</div><div class="d">‥</div><div class="t">512</div><div class="t">516</div><div class="t">520</div><div class="t">524</div><div class="t">525</div><div class="t">529</div><div class="t">533</div><div class="t">536</div><div class="t">538</div><div class="t">543</div><div class="t">548</div><div class="t">555</div><div class="t">557</div><div class="t">601</div><div class="t">607</div><div class="t">610</div><div class="t">613</div><div class="t">614</div><div class="t">617</div><div class="t">620</div><div class="t">625</div><div class="t">634</div><div class="t">640</div><div class="t">645</div><div class="t">656</div><div class="t">702</div><div class="t">707</div><div class="t">710</div><div class="t">713</div><div class="t">716</div><div class="t">722</div><div class="t">734</div><div class="t">739</div><div class="t">742</div><div class="t">947</div><div class="d">‥</div></div>
<div class="col b" style="left:565.14px"><div class="d">‥</div><div class="d">‥</div><div class="d">‥</div><div class="d">‥</div><div class="d">‥</div><div class="d">‥</div><div class="d">‥</div><div class="d">‥</div><div class="d">‥</div><div class="d">‥</div><div class="d">‥</div><div class="d">‥</div><div class="d">‥</div><div class="d">‥</div><div class="d">‥</div><div class="d">‥</div><div class="d">‥</div><div class="d">‥</div><div class="d">‥</div><div class="d">‥</div><div class="d">‥</div><div class="d">‥</div><div class="d">‥</div><div class="d">‥</div><div class="d">‥</div><div class="h"></div><div class="d">‥</div><div class="d">‥</div><div class="d">‥</div><div class="d">‥</div><div class="d">‥</div><div class="h"></div><div class="d">‥</div><div class="d">‥</div><div class="d">‥</div><div class="d">‥</div><div class="d">‥</div><div class="d">‥</div><div class="d">‥</div><div class="d">‥</div><div class="d">‥</div><div class="d">‥</div><div class="d">‥</div><div class="d">‥</div><div class="d">‥</div><div class="d">‥</div><div class="d">‥</div><div></div><div></div><div></div><div></div><div></div><div></div><div class="bb">610</div><div class="r">レ</div><div class="bb">620</div><div class="r">レ</div><div class="r">レ</div><div class="r">レ</div><div class="r">レ</div><div class="r">レ</div><div class="r">レ</div><div class="bb">642</div><div class="r">レ</div><div class="r">レ</div><div class="r">レ</div><div class="r">レ</div><div class="r">レ</div><div class="r">レ</div><div class="r">レ</div><div class="r">レ</div><div class="r">レ</div><div class="r">レ</div><div class="r">レ</div><div class="bb">718</div><div class="bb">840</div><div class="bb">1118</div></div>
<div class="col k" style="left:596.17px"><div class="d">‥</div><div class="d">‥</div><div class="d">‥</div><div class="d">‥</div><div class="d">‥</div><div class="d">‥</div><div class="d">‥</div><div class="d">‥</div><div class="d">‥</div><div class="d">‥</div><div class="d">‥</div><div class="d">‥</div><div class="d">‥</div><div class="d">‥</div><div class="d">‥</div><div class="d">‥</div><div class="d">‥</div><div class="d">‥</div><div class="d">‥</div><div class="d">‥</div><div class="d">‥</div><div class="d">‥</div><div class="d">‥</div><div class="d">‥</div><div class="d">‥</div><div class="h"></div><div class="d">‥</div><div class="d">‥</div><div class="d">‥</div><div class="d">‥</div><div class="d">‥</div><div class="h"></div><div class="d">‥</div><div class="d">‥</div><div class="d">‥</div><div class="d">‥</div><div class="d">‥</div><div class="d">‥</div><div class="d">‥</div><div class="d">‥</div><div class="d">‥</div><div class="t">534</div><div class="t">538</div><div class="t">542</div><div class="t">546</div><div class="t">547</div><div class="t">551</div><div class="t">555</div><div class="t">558</div><div class="t">600</div><div class="t">605</div><div class="t">610</div><div class="t">617</div><div class="t">618</div><div class="t">622</div><div class="t">628</div><div class="t">631</div><div class="t">534</div><div class="t">635</div><div class="t">638</div><div class="t">641</div><div class="t">646</div><div class="t">703</div><div class="t">710</div><div class="t">715</div><div class="t">721</div><div class="t">725</div><div class="t">731</div><div class="t">734</div><div class="t">737</div><div class="t">740</div><div class="t">746</div><div class="t">751</div><div class="t">755</div><div class="t">758</div><div class="d">‥</div><div class="d">‥</div></div>
<div class="col o" style="left:627.2px"><div class="d">‥</div><div class="d">‥</div><div class="d">‥</div><div class="d">‥</div><div class="d">‥</div><div class="d">‥</div><div class="d">‥</div><div class="d">‥</div><div class="d">‥</div><div class="d">‥</div><div class="d">‥</div><div class="d">‥</div><div class="d">‥</div><div class="d">‥</div><div class="d">‥</div><div class="d">‥</div><div class="d">‥</div><div class="d">‥</div><div class="d">‥</div><div class="d">‥</div><div class="d">‥</div><div class="d">‥</div><div class="d">‥</div><div class="d">‥</div><div class="d">‥</div><div class="h"></div><div class="d">‥</div><div class="d">‥</div><div class="d">‥</div><div class="d">‥</div><div class="d">‥</div><div class="h"></div><div class="d">‥</div><div class="d">‥</div><div class="d">‥</div><div class="d">‥</div><div class="d">‥</div><div class="d">‥</div><div class="d">‥</div><div class="d">‥</div><div class="d">‥</div><div class="d">‥</div><div class="d">‥</div><div class="d">‥</div><div class="d">‥</div><div class="bb">600</div><div class="r">レ</div><div class="r">レ</div><div class="bb">610</div><div class="r">レ</div><div class="r">レ</div><div class="bb">620</div><div class="bb">627</div><div class="bb">630</div><div class="r">レ</div><div class="bb">639</div><div class="r">レ</div><div class="r">レ</div><div class="r">レ</div><div class="r">レ</div><div class="r">レ</div><div class="r">レ</div><div class="bb">700</div><div class="r">レ</div><div class="bb">710</div><div class="r">レ</div><div class="r">レ</div><div class="r">レ</div><div class="r">レ</div><div class="r">レ</div><div class="r">レ</div><div class="r">レ</div><div class="r">レ</div><div class="r">レ</div><div class="bb">736</div><div class="bb">915</div><div class="bb">1133</div></div>
<div class="col k" style="left:658.23px"><div class="d">‥</div><div class="d">‥</div><div class="d">‥</div><div class="d">‥</div><div class="d">‥</div><div class="d">‥</div><div class="d">‥</div><div class="d">‥</div><div class="d">‥</div><div class="d">‥</div><div class="d">‥</div><div class="d">‥</div><div class="d">‥</div><div class="d">‥</div><div class="d">‥</div><div class="d">‥</div><div class="d">‥</div><div class="d">‥</div><div class="d">‥</div><div class="d">‥</div><div class="d">‥</div><div class="d">‥</div><div class="d">‥</div><div class="d">‥</div><div class="d">‥</div><div class="h"></div><div class="d">‥</div><div class="d">‥</div><div class="d">‥</div><div class="d">‥</div><div class="d">‥</div><div class="h"></div><div class="d">‥</div><div class="d">‥</div><div class="d">‥</div><div class="d">‥</div><div class="d">‥</div><div class="d">‥</div><div class="d">‥</div><div class="d">‥</div><div class="d">‥</div><div class="t">557</div><div class="t">601</div><div class="t">605</div><div class="t">609</div><div class="t">610</div><div class="t">614</div><div class="t">618</div><div class="t">621</div><div class="t">623</div><div class="t">628</div><div class="t">633</div><div class="t">640</div><div class="t">642</div><div class="t">646</div><div class="t">652</div><div class="t">655</div><div class="t">658</div><div class="t">659</div><div class="t">702</div><div class="t">705</div><div class="t">710</div><div class="t">719</div><div class="t">725</div><div class="t">730</div><div class="t">735</div><div class="t">739</div><div class="t">745</div><div class="t">748</div><div class="t">750</div><div class="t">753</div><div class="t">805</div><div class="t">811</div><div class="t">815</div><div class="t">819</div><div class="d">‥</div><div class="d">‥</div></div>
<div class="col k" style="left:689.26px"><div class="d">‥</div><div class="d">‥</div><div class="d">‥</div><div class="d">‥</div><div class="d">‥</div><div class="d">‥</div><div class="d">‥</div><div class="d">‥</div><div class="d">‥</div><div class="d">‥</div><div class="d">‥</div><div class="d">‥</div><div class="d">‥</div><div class="d">‥</div><div class="d">‥</div><div class="d">‥</div><div class="d">‥</div><div class="d">‥</div><div class="d">‥</div><div class="d">‥</div><div class="d">‥</div><div class="t">445</div><div class="t">449</div><div class="t">454</div><div class="t">458</div><div class="t">502</div><div class="t">506</div><div class="t">510</div><div class="t">515</div><div class="t">520</div><div class="t">523</div><div class="t">528</div><div class="t">533</div><div class="t">539</div><div class="t">543</div><div class="t">548</div><div class="t">553</div><div class="t">558</div><div class="t">559</div><div class="t">605</div><div class="t">608</div><div class="v">‖</div><div class="v">‖</div><div class="t">612</div><div class="t">616</div><div class="t">617</div><div class="t">621</div><div class="t">625</div><div class="t">628</div><div class="t">630</div><div class="t">635</div><div class="t">640</div><div class="t">647</div><div class="t">649</div><div class="t">653</div><div class="t">659</div><div class="t">702</div><div class="t">705</div><div class="t">706</div><div class="t">709</div><div class="t">712</div><div class="t">717</div><div class="t">726</div><div class="t">732</div><div class="t">738</div><div class="t">743</div><div class="t">754</div><div class="t">800</div><div class="t">803</div><div class="t">806</div><div></div><div class="d">‥</div><div class="d">‥</div><div class="d">‥</div><div class="d">‥</div><div class="d">‥</div><div class="d">‥</div></div>
<div class="col k" style="left:720.29px"><div class="d">‥</div><div class="d">‥</div><div class="d">‥</div><div class="d">‥</div><div class="d">‥</div><div class="d">‥</div><div class="d">‥</div><div class="d">‥</div><div class="d">‥</div><div class="d">‥</div><div class="d">‥</div><div class="d">‥</div><div class="d">‥</div><div class="d">‥</div><div class="d">‥</div><div class="d">‥</div><div class="d">‥</div><div class="d">‥</div><div class="d">‥</div><div class="d">‥</div><div class="d">‥</div><div class="d">‥</div><div class="d">‥</div><div class="d">‥</div><div class="d">‥</div><div class="h"></div><div></div><div></div><div></div><div></div><div></div><div></div><div></div><div></div><div></div><div class="t">556</div><div class="t">601</div><div class="t">607</div><div class="t">609</div><div class="t">615</div><div class="t">619</div><div class="v">‖</div><div class="v">‖</div><div class="t">622</div><div></div><div class="d">‥</div><div class="d">‥</div><div class="d">‥</div><div class="d">‥</div><div class="d">‥</div><div class="d">‥</div><div class="d">‥</div><div class="d">‥</div><div class="d">‥</div><div class="d">‥</div><div class="d">‥</div><div class="d">‥</div><div class="d">‥</div><div class="d">‥</div><div class="d">‥</div><div class="d">‥</div><div class="d">‥</div><div class="d">‥</div><div class="d">‥</div><div class="d">‥</div><div class="d">‥</div><div class="h"></div><div class="d">‥</div><div class="d">‥</div><div class="d">‥</div><div class="d">‥</div><div class="d">‥</div><div class="d">‥</div><div class="d">‥</div><div class="d">‥</div><div class="d">‥</div><div class="d">‥</div></div>
<div class="col o" style="left:751.32px"><div class="d">‥</div><div class="d">‥</div><div class="d">‥</div><div class="d">‥</div><div class="d">‥</div><div class="d">‥</div><div class="d">‥</div><div class="d">‥</div><div class="d">‥</div><div class="d">‥</div><div class="d">‥</div><div class="d">‥</div><div class="d">‥</div><div class="d">‥</div><div class="d">‥</div><div class="d">‥</div><div class="d">‥</div><div class="d">‥</div><div class="d">‥</div><div class="d">‥</div><div class="d">‥</div><div class="d">‥</div><div class="d">‥</div><div class="d">‥</div><div class="d">‥</div><div class="h"></div><div class="d">‥</div><div class="d">‥</div><div class="d">‥</div><div class="d">‥</div><div class="d">‥</div><div class="h"></div><div class="d">‥</div><div class="d">‥</div><div class="d">‥</div><div class="d">‥</div><div class="d">‥</div><div class="d">‥</div><div class="d">‥</div><div class="d">‥</div><div class="d">‥</div><div class="bb">613</div><div class="r">レ</div><div class="bb">621</div><div class="bb">625</div><div class="bb">628</div><div class="r">レ</div><div class="r">レ</div><div class="bb">637</div><div class="r">レ</div><div class="bb">645</div><div class="bb">650</div><div class="bb">657</div><div class="bb">700</div><div class="r">レ</div><div class="bb">710</div><div class="r">レ</div><div class="bb">716</div><div class="bb">717</div><div class="r">レ</div><div class="r">レ</div><div class="r">レ</div><div class="bb">733</div><div class="r">レ</div><div class="bb">744</div><div class="r">レ</div><div class="r">レ</div><div class="r">レ</div><div class="r">レ</div><div class="r">レ</div><div class="r">レ</div><div class="r">レ</div><div class="r">レ</div><div class="r">レ</div><div class="bb">811</div><div class="bb">932</div><div class="bb">1206</div></div>
<div class="col k" style="left:782.35px"><div class="d">‥</div><div class="d">‥</div><div class="d">‥</div><div class="d">‥</div><div class="d">‥</div><div class="d">‥</div><div class="d">‥</div><div class="d">‥</div><div class="d">‥</div><div class="d">‥</div><div class="d">‥</div><div class="d">‥</div><div class="d">‥</div><div class="d">‥</div><div class="d">‥</div><div class="d">‥</div><div class="d">‥</div><div class="d">‥</div><div class="d">‥</div><div class="d">‥</div><div class="d">‥</div><div class="d">‥</div><div class="d">‥</div><div class="d">‥</div><div class="d">‥</div><div class="h"></div><div class="d">‥</div><div class="d">‥</div><div class="d">‥</div><div class="d">‥</div><div class="d">‥</div><div class="h"></div><div class="d">‥</div><div class="d">‥</div><div class="d">‥</div><div class="d">‥</div><div class="d">‥</div><div class="d">‥</div><div class="d">‥</div><div class="d">‥</div><div class="d">‥</div><div class="t">618</div><div class="t">622</div><div class="t">626</div><div class="t">630</div><div class="t">632</div><div class="t">636</div><div class="t">640</div><div class="t">643</div><div class="t">645</div><div class="t">650</div><div class="t">655</div><div class="t">702</div><div class="t">704</div><div class="t">708</div><div class="t">714</div><div class="t">717</div><div class="t">720</div><div class="t">721</div><div class="t">724</div><div class="t">727</div><div class="t">732</div><div class="t">741</div><div class="t">747</div><div class="t">753</div><div class="t">758</div><div class="t">803</div><div class="t">808</div><div class="t">811</div><div class="t">814</div><div class="t">817</div><div class="t">823</div><div class="t">828</div><div class="t">832</div><div class="t">835</div><div class="t">1042</div><div class="d">‥</div></div>
<div class="col b" style="left:813.38px"><div class="d">‥</div><div class="d">‥</div><div class="d">‥</div><div class="d">‥</div><div class="d">‥</div><div class="d">‥</div><div class="d">‥</div><div class="d">‥</div><div class="d">‥</div><div class="d">‥</div><div class="d">‥</div><div class="d">‥</div><div class="d">‥</div><div class="d">‥</div><div class="d">‥</div><div class="d">‥</div><div class="d">‥</div><div class="d">‥</div><div class="d">‥</div><div class="d">‥</div><div class="d">‥</div><div class="d">‥</div><div class="d">‥</div><div class="d">‥</div><div class="d">‥</div><div class="h"></div><div class="d">‥</div><div class="d">‥</div><div class="d">‥</div><div class="d">‥</div><div class="d">‥</div><div class="h"></div><div class="d">‥</div><div class="d">‥</div><div class="d">‥</div><div class="d">‥</div><div class="d">‥</div><div class="d">‥</div><div class="d">‥</div><div class="d">‥</div><div class="d">‥</div><div class="d">‥</div><div class="d">‥</div><div class="d">‥</div><div class="d">‥</div><div class="bb">640</div><div class="r">レ</div><div class="r">レ</div><div class="bb">650</div><div class="r">レ</div><div class="bb">658</div><div class="bb">703</div><div class="bb">710</div><div class="bb">713</div><div class="r">レ</div><div class="bb">723</div><div class="r">レ</div><div class="bb">729</div><div class="bb">731</div><div class="r">レ</div><div class="r">レ</div><div class="bb">741</div><div class="bb">751</div><div class="r">レ</div><div class="bb">803</div><div class="r">レ</div><div class="bb">813</div><div class="r">レ</div><div class="r">レ</div><div class="r">レ</div><div class="bb">825</div><div class="bb">832</div><div class="bb">839</div><div class="r">レ</div><div class="bb">847</div><div class="bb">1059</div><div class="d">‥</div></div>
<div class="col k" style="left:844.41px"><div class="d">‥</div><div class="d">‥</div><div class="d">‥</div><div class="d">‥</div><div class="d">‥</div><div class="d">‥</div><div class="d">‥</div><div class="d">‥</div><div class="d">‥</div><div class="d">‥</div><div class="d">‥</div><div class="d">‥</div><div class="d">‥</div><div class="d">‥</div><div class="d">‥</div><div class="d">‥</div><div class="d">‥</div><div class="t">504</div><div class="t">507</div><div class="t">509</div><div class="t">514</div><div class="t">515</div><div class="t">519</div><div class="t">524</div><div class="t">528</div><div class="t">532</div><div class="t">536</div><div class="t">540</div><div class="t">545</div><div class="t">550</div><div class="t">553</div><div class="t">558</div><div class="t">603</div><div class="t">609</div><div class="t">613</div><div class="t">618</div><div class="t">623</div><div class="t">628</div><div class="t">629</div><div class="t">635</div><div class="t">638</div><div class="v">‖</div><div class="v">‖</div><div class="t">642</div><div class="t">646</div><div class="t">647</div><div class="t">651</div><div class="t">655</div><div class="t">658</div><div class="t">700</div><div class="t">705</div><div class="t">710</div><div class="t">717</div><div class="t">719</div><div class="t">723</div><div class="t">729</div><div class="t">732</div><div class="t">736</div><div class="d">‥</div><div class="d">‥</div><div class="d">‥</div><div class="d">‥</div><div class="d">‥</div><div class="d">‥</div><div class="d">‥</div><div class="d">‥</div><div class="h"></div><div class="d">‥</div><div class="d">‥</div><div class="d">‥</div><div class="d">‥</div><div class="d">‥</div><div class="d">‥</div><div class="d">‥</div><div class="d">‥</div><div class="d">‥</div><div class="d">‥</div></div>
<div class="col k" style="left:875.44px"><div class="d">‥</div><div class="d">‥</div><div class="d">‥</div><div class="d">‥</div><div class="d">‥</div><div class="d">‥</div><div class="d">‥</div><div class="d">‥</div><div class="d">‥</div><div class="d">‥</div><div class="d">‥</div><div class="d">‥</div><div class="d">‥</div><div class="d">‥</div><div class="d">‥</div><div class="d">‥</div><div class="d">‥</div><div class="d">‥</div><div class="d">‥</div><div class="d">‥</div><div class="d">‥</div><div class="d">‥</div><div class="d">‥</div><div class="d">‥</div><div class="d">‥</div><div class="h"></div><div class="d">‥</div><div class="d">‥</div><div class="d">‥</div><div class="d">‥</div><div class="d">‥</div><div class="h"></div><div class="d">‥</div><div class="d">‥</div><div class="d">‥</div><div class="d">‥</div><div class="d">‥</div><div class="d">‥</div><div class="d">‥</div><div class="d">‥</div><div class="d">‥</div><div class="t">637</div><div class="t">641</div><div class="t">645</div><div class="t">649</div><div class="t">652</div><div class="t">656</div><div class="t">700</div><div class="t">703</div><div class="t">705</div><div class="t">710</div><div class="t">715</div><div class="t">722</div><div class="t">724</div><div class="t">728</div><div class="t">734</div><div class="t">737</div><div class="t">740</div><div class="t">741</div><div class="t">744</div><div class="t">747</div><div class="t">752</div><div class="t">801</div><div class="t">807</div><div class="t">813</div><div class="t">818</div><div class="t">823</div><div class="t">828</div><div class="t">831</div><div class="t">834</div><div class="t">843</div><div class="t">849</div><div class="t">854</div><div class="t">858</div><div class="t">901</div><div class="d">‥</div><div class="d">‥</div></div>
<div class="col k" style="left:906.47px"><div class="d">‥</div><div class="d">‥</div><div class="d">‥</div><div class="d">‥</div><div class="d">‥</div><div class="d">‥</div><div class="d">‥</div><div class="d">‥</div><div class="d">‥</div><div class="d">‥</div><div class="d">‥</div><div class="d">‥</div><div class="d">‥</div><div class="d">‥</div><div class="d">‥</div><div class="d">‥</div><div class="d">‥</div><div class="d">‥</div><div class="d">‥</div><div class="d">‥</div><div class="d">‥</div><div class="d">‥</div><div class="d">‥</div><div class="d">‥</div><div class="d">‥</div><div class="h"></div><div class="d">‥</div><div class="d">‥</div><div class="d">‥</div><div class="d">‥</div><div class="d">‥</div><div class="h"></div><div class="d">‥</div><div class="d">‥</div><div class="d">‥</div><div class="d">‥</div><div class="d">‥</div><div class="d">‥</div><div class="d">‥</div><div class="d">‥</div><div class="d">‥</div><div class="t">644</div><div class="r">レ</div><div class="t">651</div><div class="t">656</div><div class="t">657</div><div class="r">レ</div><div class="r">レ</div><div class="t">708</div><div class="r">レ</div><div class="t">715</div><div class="t">720</div><div class="t">727</div><div class="t">731</div><div class="r">レ</div><div class="t">740</div><div class="r">レ</div><div class="t">745</div><div class="t">747</div><div class="r">レ</div><div class="r">レ</div><div class="t">756</div><div></div><div class="d">‥</div><div class="d">‥</div><div class="d">‥</div><div class="h"></div><div class="js" style="font-size:11.9px;text-align:center;letter-spacing:-.3px;color:#3a3536">區間</div><div style="font:italic bold 13px/13.78px 'Liberation Serif','Noto Serif CJK JP','Noto Serif CJK SC',serif;text-align:right;padding-right:2px;letter-spacing:-.5px">2517</div><div class="t">848</div><div class="t">851</div><div class="t">857</div><div class="t">902</div><div class="t">906</div><div class="t">909</div><div class="t">1128</div><div class="d">‥</div></div>
<div class="ln" style="left:693px;top:1124px;width:23px;height:1px;background:#555"></div>
<div class="ln" style="left:693px;top:1127px;width:23px;height:1px;background:#555"></div>
<div class="ln" style="left:724px;top:765px;width:23px;height:1px;background:#555"></div>
<div class="ln" style="left:724px;top:768px;width:23px;height:1px;background:#555"></div>
<div class="ln" style="left:910px;top:1013px;width:24px;height:1px;background:#555"></div>
<div class="ln" style="left:910px;top:1016px;width:24px;height:1px;background:#555"></div>
<div class="ln" style="left:318.5px;top:1220.36px;width:27.83px;height:25.96px;background:#d9ebd3"></div>
<div class="a " style="left:316.9px;top:1219.96px;width:31.03px;text-align:center;font:12.2px/13.5px 'Noto Serif CJK JP','Noto Serif CJK SC',serif;color:#3a3536;letter-spacing:-.3px">嘉義</div>
<div class="a t k" style="left:316.9px;top:1233.14px;width:39.03px;height:13.78px">927</div>
<div class="a " style="left:316.9px;top:1246.92px;width:31.03px;text-align:center;font:12.5px/13.78px 'Liberation Serif','Noto Serif CJK JP','Noto Serif CJK SC',serif">22</div>
<div class="ln" style="left:349.53px;top:1220.36px;width:27.83px;height:25.96px;background:#d9ebd3"></div>
<div class="a " style="left:347.93px;top:1219.96px;width:31.03px;text-align:center;font:12.2px/13.5px 'Noto Serif CJK JP','Noto Serif CJK SC',serif;color:#3a3536;letter-spacing:-.3px">苗栗</div>
<div class="a t k" style="left:347.93px;top:1233.14px;width:39.03px;height:13.78px">701</div>
<div class="a " style="left:347.93px;top:1246.92px;width:31.03px;text-align:center;font:12.5px/13.78px 'Liberation Serif','Noto Serif CJK JP','Noto Serif CJK SC',serif">22</div>
<div class="a d k" style="left:378.96px;top:1219.36px;width:31.03px;height:13.78px">‥</div>
<div class="a d k" style="left:378.96px;top:1233.14px;width:31.03px;height:13.78px">‥</div>
<div class="a d b" style="left:409.99px;top:1219.36px;width:31.03px;height:13.78px">‥</div>
<div class="a d b" style="left:409.99px;top:1233.14px;width:31.03px;height:13.78px">‥</div>
<div class="ln" style="left:442.62px;top:1220.36px;width:27.83px;height:25.96px;background:#d9ebd3"></div>
<div class="a " style="left:441.02px;top:1219.96px;width:31.03px;text-align:center;font:12.2px/13.5px 'Noto Serif CJK JP','Noto Serif CJK SC',serif;color:#3a3536;letter-spacing:-.3px">彰化</div>
<div class="a t k" style="left:441.02px;top:1233.14px;width:39.03px;height:13.78px">811</div>
<div class="a " style="left:441.02px;top:1246.92px;width:31.03px;text-align:center;font:12.5px/13.78px 'Liberation Serif','Noto Serif CJK JP','Noto Serif CJK SC',serif">22</div>
<div class="ln" style="left:473.65px;top:1220.36px;width:27.83px;height:25.96px;background:#d9ebd3"></div>
<div class="a " style="left:472.05px;top:1219.96px;width:31.03px;text-align:center;font:12.2px/13.5px 'Noto Serif CJK JP','Noto Serif CJK SC',serif;color:#3a3536;letter-spacing:-.3px">嘉義</div>
<div class="a t k" style="left:472.05px;top:1233.14px;width:39.03px;height:13.78px">1039</div>
<div class="a " style="left:472.05px;top:1246.92px;width:31.03px;text-align:center;font:12.5px/13.78px 'Liberation Serif','Noto Serif CJK JP','Noto Serif CJK SC',serif">22</div>
<div class="a d k" style="left:503.08px;top:1219.36px;width:31.03px;height:13.78px">‥</div>
<div class="a d k" style="left:503.08px;top:1233.14px;width:31.03px;height:13.78px">‥</div>
<div class="ln" style="left:535.71px;top:1220.36px;width:27.83px;height:25.96px;background:#d9ebd3"></div>
<div class="a " style="left:534.11px;top:1219.96px;width:31.03px;text-align:center;font:12.2px/13.5px 'Noto Serif CJK JP','Noto Serif CJK SC',serif;color:#3a3536;letter-spacing:-.3px">嘉義</div>
<div class="a t k" style="left:534.11px;top:1233.14px;width:39.03px;height:13.78px">1118</div>
<div class="a " style="left:534.11px;top:1246.92px;width:31.03px;text-align:center;font:12.5px/13.78px 'Liberation Serif','Noto Serif CJK JP','Noto Serif CJK SC',serif">22</div>
<div class="ln" style="left:566.74px;top:1220.36px;width:27.83px;height:25.96px;background:#d9ebd3"></div>
<div class="a " style="left:565.14px;top:1219.96px;width:31.03px;text-align:center;font:12.2px/13.5px 'Noto Serif CJK JP','Noto Serif CJK SC',serif;color:#1a84c7;letter-spacing:-.3px">臺北</div>
<div class="a bb b" style="left:565.14px;top:1233.14px;width:47.03px;height:13.78px">1952</div>
<div class="a " style="left:565.14px;top:1246.92px;width:31.03px;text-align:center;font:12.5px/13.78px 'Liberation Serif','Noto Serif CJK JP','Noto Serif CJK SC',serif">22</div>
<div class="ln" style="left:597.77px;top:1220.36px;width:27.83px;height:25.96px;background:#d9ebd3"></div>
<div class="a " style="left:596.17px;top:1219.96px;width:31.03px;text-align:center;font:12.2px/13.5px 'Noto Serif CJK JP','Noto Serif CJK SC',serif;color:#3a3536;letter-spacing:-.3px">苗栗</div>
<div class="a t k" style="left:596.17px;top:1233.14px;width:39.03px;height:13.78px">835</div>
<div class="a " style="left:596.17px;top:1246.92px;width:31.03px;text-align:center;font:12.5px/13.78px 'Liberation Serif','Noto Serif CJK JP','Noto Serif CJK SC',serif">22</div>
<div class="ln" style="left:628.8px;top:1220.36px;width:27.83px;height:25.96px;background:#d8e6f4"></div>
<div class="a " style="left:627.2px;top:1219.96px;width:31.03px;text-align:center;font:12.2px/13.5px 'Noto Serif CJK JP','Noto Serif CJK SC',serif;color:#e0661c;letter-spacing:-.3px">潮州</div>
<div class="a bb o" style="left:627.2px;top:1233.14px;width:47.03px;height:13.78px">1220</div>
<div class="a " style="left:627.2px;top:1246.92px;width:31.03px;text-align:center;font:12.5px/13.78px 'Liberation Serif','Noto Serif CJK JP','Noto Serif CJK SC',serif">22</div>
<div class="a d k" style="left:658.23px;top:1219.36px;width:31.03px;height:13.78px">‥</div>
<div class="a d k" style="left:658.23px;top:1233.14px;width:31.03px;height:13.78px">‥</div>
<div class="a d k" style="left:689.26px;top:1219.36px;width:31.03px;height:13.78px">‥</div>
<div class="a d k" style="left:689.26px;top:1233.14px;width:31.03px;height:13.78px">‥</div>
<div class="a d k" style="left:720.29px;top:1219.36px;width:31.03px;height:13.78px">‥</div>
<div class="a d k" style="left:720.29px;top:1233.14px;width:31.03px;height:13.78px">‥</div>
<div class="ln" style="left:752.92px;top:1220.36px;width:27.83px;height:25.96px;background:#d9ebd3"></div>
<div class="a " style="left:751.32px;top:1219.96px;width:31.03px;text-align:center;font:12.2px/13.5px 'Noto Serif CJK JP','Noto Serif CJK SC',serif;color:#e0661c;letter-spacing:-.3px">屏東</div>
<div class="a bb o" style="left:751.32px;top:1233.14px;width:47.03px;height:13.78px">1232</div>
<div class="a " style="left:751.32px;top:1246.92px;width:31.03px;text-align:center;font:12.5px/13.78px 'Liberation Serif','Noto Serif CJK JP','Noto Serif CJK SC',serif">22</div>
<div class="ln" style="left:783.95px;top:1220.36px;width:27.83px;height:25.96px;background:#d9ebd3"></div>
<div class="a " style="left:782.35px;top:1219.96px;width:31.03px;text-align:center;font:12.2px/13.5px 'Noto Serif CJK JP','Noto Serif CJK SC',serif;color:#3a3536;letter-spacing:-.3px">嘉義</div>
<div class="a t k" style="left:782.35px;top:1233.14px;width:39.03px;height:13.78px">1218</div>
<div class="a " style="left:782.35px;top:1246.92px;width:31.03px;text-align:center;font:12.5px/13.78px 'Liberation Serif','Noto Serif CJK JP','Noto Serif CJK SC',serif">22</div>
<div class="ln" style="left:814.98px;top:1220.36px;width:27.83px;height:25.96px;background:#d8e6f4"></div>
<div class="a " style="left:813.38px;top:1220.16px;width:31.03px;text-align:center;font:9.6px/13.5px 'Noto Sans CJK JP','Noto Sans CJK SC',sans-serif;color:#1a84c7;letter-spacing:-.6px">新左營</div>
<div class="a bb b" style="left:813.38px;top:1233.14px;width:47.03px;height:13.78px">1406</div>
<div class="a " style="left:813.38px;top:1246.92px;width:31.03px;text-align:center;font:12.5px/13.78px 'Liberation Serif','Noto Serif CJK JP','Noto Serif CJK SC',serif">22</div>
<div class="a d k" style="left:844.41px;top:1219.36px;width:31.03px;height:13.78px">‥</div>
<div class="a d k" style="left:844.41px;top:1233.14px;width:31.03px;height:13.78px">‥</div>
<div class="ln" style="left:877.04px;top:1220.36px;width:27.83px;height:25.96px;background:#d9ebd3"></div>
<div class="a " style="left:875.44px;top:1219.96px;width:31.03px;text-align:center;font:12.2px/13.5px 'Noto Serif CJK JP','Noto Serif CJK SC',serif;color:#3a3536;letter-spacing:-.3px">苗栗</div>
<div class="a t k" style="left:875.44px;top:1233.14px;width:39.03px;height:13.78px">939</div>
<div class="a " style="left:875.44px;top:1246.92px;width:31.03px;text-align:center;font:12.5px/13.78px 'Liberation Serif','Noto Serif CJK JP','Noto Serif CJK SC',serif">23</div>
<div class="ln" style="left:908.07px;top:1220.36px;width:27.83px;height:25.96px;background:#d8e6f4"></div>
<div class="a " style="left:906.47px;top:1219.96px;width:31.03px;text-align:center;font:12.2px/13.5px 'Noto Serif CJK JP','Noto Serif CJK SC',serif;color:#3a3536;letter-spacing:-.3px">彰化</div>
<div class="a t k" style="left:906.47px;top:1233.14px;width:39.03px;height:13.78px">1128</div>
<div class="a " style="left:906.47px;top:1246.92px;width:31.03px;text-align:center;font:12.5px/13.78px 'Liberation Serif','Noto Serif CJK JP','Noto Serif CJK SC',serif">23</div>
<div class="a " style="left:221.5px;top:1224.39px;font:600 12.5px/17.5px 'Noto Serif CJK JP','Noto Serif CJK SC',serif;width:12.5px;text-align:center;">終</div>
<div class="a " style="left:248px;top:1224.39px;font:600 12.5px/17.5px 'Noto Serif CJK JP','Noto Serif CJK SC',serif;width:12.5px;text-align:center;">着</div>
<div class="a " style="left:167.8px;top:1245.06px;font:600 12.5px/17.5px 'Noto Serif CJK JP','Noto Serif CJK SC',serif;width:12.5px;text-align:center;">次</div>
<div class="a " style="left:201.12px;top:1245.06px;font:600 12.5px/17.5px 'Noto Serif CJK JP','Noto Serif CJK SC',serif;width:12.5px;text-align:center;">の</div>
<div class="a " style="left:234.45px;top:1245.06px;font:600 12.5px/17.5px 'Noto Serif CJK JP','Noto Serif CJK SC',serif;width:12.5px;text-align:center;">掲</div>
<div class="a " style="left:267.78px;top:1245.06px;font:600 12.5px/17.5px 'Noto Serif CJK JP','Noto Serif CJK SC',serif;width:12.5px;text-align:center;">載</div>
<div class="a " style="left:301.1px;top:1245.06px;font:600 12.5px/17.5px 'Noto Serif CJK JP','Noto Serif CJK SC',serif;width:12.5px;text-align:center;">頁</div>
<div class="km" style="left:122.4px;top:158.3px">0.0</div>
<div class="sn" style="left:171px;top:158.3px;font-weight:900">花</div>
<div class="sn" style="left:210px;top:158.3px;font-weight:900">蓮</div>
<div class="rdb" style="left:227.6px;top:158.3px">ふぁーりぇん</div>
<div class="mj" style="left:302.4px;top:158.3px">発</div>
<div class="km" style="left:122.4px;top:172.08px">4.5</div>
<div class="sn" style="left:171px;top:172.08px">北</div>
<div class="sn" style="left:210px;top:172.08px">埔</div>
<div class="rd" style="left:227.6px;top:172.08px">べいふー</div>
<div class="mk" style="left:302.5px;top:172.08px">〃</div>
<div class="km" style="left:122.4px;top:185.86px">11.0</div>
<div class="sn" style="left:171px;top:185.86px">景</div>
<div class="sn" style="left:210px;top:185.86px">美</div>
<div class="rd" style="left:227.6px;top:185.86px">じんめい</div>
<div class="mk" style="left:302.5px;top:185.86px">〃</div>
<div class="km" style="left:122.4px;top:199.64px">16.3</div>
<div class="sn" style="left:171px;top:199.64px">新</div>
<div class="sn" style="left:210px;top:199.64px">城</div>
<div class="rd" style="left:227.6px;top:199.64px">しんちぇん</div>
<div class="mk" style="left:302.5px;top:199.64px">〃</div>
<div class="km" style="left:122.4px;top:213.42px">21.6</div>
<div class="sn" style="left:171px;top:213.42px">崇</div>
<div class="sn" style="left:210px;top:213.42px">徳</div>
<div class="rd" style="left:227.6px;top:213.42px">ちょんどぅー</div>
<div class="mk" style="left:302.5px;top:213.42px">〃</div>
<div class="km" style="left:122.4px;top:227.2px">31.7</div>
<div class="sn" style="left:171px;top:227.2px">和</div>
<div class="sn" style="left:210px;top:227.2px">仁</div>
<div class="rd" style="left:227.6px;top:227.2px">へーれん</div>
<div class="mk" style="left:302.5px;top:227.2px">〃</div>
<div class="km" style="left:122.4px;top:240.98px">39.4</div>
<div class="sn" style="left:171px;top:240.98px">和</div>
<div class="sn" style="left:210px;top:240.98px">平</div>
<div class="rd" style="left:227.6px;top:240.98px">へーぴん</div>
<div class="mk" style="left:302.5px;top:240.98px">〃</div>
<div class="km" style="left:122.4px;top:254.76px">43.6</div>
<div class="sn" style="left:171px;top:254.76px">漢</div>
<div class="sn" style="left:210px;top:254.76px">本</div>
<div class="rd" style="left:227.6px;top:254.76px">はんぺん</div>
<div class="mk" style="left:302.5px;top:254.76px">〃</div>
<div class="km" style="left:122.4px;top:268.54px">56.5</div>
<div class="sn" style="left:171px;top:268.54px">武</div>
<div class="sn" style="left:210px;top:268.54px">塔</div>
<div class="rd" style="left:227.6px;top:268.54px">うーたー</div>
<div class="mk" style="left:302.5px;top:268.54px">〃</div>
<div class="km" style="left:122.4px;top:282.32px">60.2</div>
<div class="sn" style="left:171px;top:282.32px">南</div>
<div class="sn" style="left:210px;top:282.32px">澳</div>
<div class="rd" style="left:227.6px;top:282.32px">なんあぉ</div>
<div class="mk" style="left:302.5px;top:282.32px">〃</div>
<div class="km" style="left:122.4px;top:296.1px">68.2</div>
<div class="sn" style="left:171px;top:296.1px">東</div>
<div class="sn" style="left:210px;top:296.1px">澳</div>
<div class="rd" style="left:227.6px;top:296.1px">とんあぉ</div>
<div class="mk" style="left:302.5px;top:296.1px">〃</div>
<div class="km" style="left:122.4px;top:309.88px">74.0</div>
<div class="sn" style="left:171px;top:309.88px">永</div>
<div class="sn" style="left:210px;top:309.88px">楽</div>
<div class="rd" style="left:227.6px;top:309.88px">よんるー</div>
<div class="mk" style="left:302.5px;top:309.88px">〃</div>
<div class="km" style="left:94.9px;top:323.66px">0.0</div>
<div class="km" style="left:122.4px;top:323.66px">82.6</div>
<div class="sn" style="left:171px;top:323.66px;font-weight:900">蘇</div>
<div class="sn" style="left:210px;top:323.66px;font-weight:900">澳</div>
<div class="rdb" style="left:227.6px;top:323.66px">すーあぉ</div>
<div class="mj" style="left:302.4px;top:323.66px">発</div>
<div class="km" style="left:94.9px;top:337.44px">3.4</div>
<div class="km" style="left:122.4px;top:344.33px">79.2</div>
<div class="a" style="left:168.6px;top:335.64px;font:500 18.6px/27.56px 'Noto Sans CJK JP','Noto Sans CJK SC',sans-serif">蘇</div>
<div class="a" style="left:187.1px;top:335.64px;font:500 18.6px/27.56px 'Noto Sans CJK JP','Noto Sans CJK SC',sans-serif">澳</div>
<div class="a" style="left:205.6px;top:335.64px;font:500 18.6px/27.56px 'Noto Sans CJK JP','Noto Sans CJK SC',sans-serif">新</div>
<div class="a" style="left:228.6px;top:337.24px;font:400 11.9px/27.56px 'Noto Sans CJK JP','Noto Sans CJK SC',sans-serif;letter-spacing:-.45px">すーあぉしん</div>
<div class="mj" style="left:302.4px;top:337.44px">着</div>
<div class="mj" style="left:302.4px;top:351.22px">発</div>
<div class="km" style="left:122.4px;top:365px">80.1</div>
<div class="sn" style="left:171px;top:365px">新</div>
<div class="sn" style="left:210px;top:365px">馬</div>
<div class="rd" style="left:227.6px;top:365px">しんま</div>
<div class="mk" style="left:302.5px;top:365px">〃</div>
<div class="km" style="left:122.4px;top:378.78px">84.3</div>
<div class="sn" style="left:171px;top:378.78px">冬</div>
<div class="sn" style="left:210px;top:378.78px">山</div>
<div class="rd" style="left:227.6px;top:378.78px">どんしゃん</div>
<div class="mk" style="left:302.5px;top:378.78px">〃</div>
<div class="km" style="left:122.4px;top:392.56px">89.3</div>
<div class="sn" style="left:171px;top:392.56px">羅</div>
<div class="sn" style="left:210px;top:392.56px">東</div>
<div class="rd" style="left:227.6px;top:392.56px">るぉーどん</div>
<div class="mk" style="left:302.5px;top:392.56px">〃</div>
<div class="km" style="left:122.4px;top:406.34px">91.1</div>
<div class="sn" style="left:171px;top:406.34px">中</div>
<div class="sn" style="left:210px;top:406.34px">里</div>
<div class="rd" style="left:227.6px;top:406.34px">ちゅんりー</div>
<div class="mk" style="left:302.5px;top:406.34px">〃</div>
<div class="km" style="left:122.4px;top:420.12px">92.3</div>
<div class="sn" style="left:171px;top:420.12px">二</div>
<div class="sn" style="left:210px;top:420.12px">結</div>
<div class="rd" style="left:227.6px;top:420.12px">あーじぇ</div>
<div class="mk" style="left:302.5px;top:420.12px">〃</div>
<div class="km" style="left:122.4px;top:440.79px">98.1</div>
<div class="a" style="left:168.4px;top:432.1px;font:500 18.6px/27.56px 'Noto Sans CJK JP','Noto Sans CJK SC',sans-serif">宜</div>
<div class="a" style="left:206.4px;top:432.1px;font:500 18.6px/27.56px 'Noto Sans CJK JP','Noto Sans CJK SC',sans-serif">蘭</div>
<div class="a" style="left:228.6px;top:433.7px;font:400 11.9px/27.56px 'Noto Sans CJK JP','Noto Sans CJK SC',sans-serif">いーらん</div>
<div class="mj" style="left:302.4px;top:433.9px">着</div>
<div class="mj" style="left:302.4px;top:447.68px">発</div>
<div class="km" style="left:122.4px;top:461.46px">101.8</div>
<div class="sn" style="left:171px;top:461.46px">四</div>
<div class="sn" style="left:210px;top:461.46px">城</div>
<div class="rd" style="left:227.6px;top:461.46px">しーちぇん</div>
<div class="mk" style="left:302.5px;top:461.46px">〃</div>
<div class="km" style="left:122.4px;top:475.24px">106.5</div>
<div class="sn" style="left:171px;top:475.24px">礁</div>
<div class="sn" style="left:210px;top:475.24px">渓</div>
<div class="rd" style="left:227.6px;top:475.24px">じゃおしー</div>
<div class="mk" style="left:302.5px;top:475.24px">〃</div>
<div class="km" style="left:122.4px;top:489.02px">110.6</div>
<div class="sn" style="left:171px;top:489.02px">頂</div>
<div class="sn" style="left:210px;top:489.02px">埔</div>
<div class="rd" style="left:227.6px;top:489.02px">でぃんぷー</div>
<div class="mk" style="left:302.5px;top:489.02px">〃</div>
<div class="km" style="left:122.4px;top:502.8px">112.8</div>
<div class="sn" style="left:171px;top:502.8px">頭</div>
<div class="sn" style="left:210px;top:502.8px">城</div>
<div class="rd" style="left:227.6px;top:502.8px">とうちぇん</div>
<div class="mk" style="left:302.5px;top:502.8px">〃</div>
<div class="km" style="left:122.4px;top:516.58px">116.4</div>
<div class="sn" style="left:171px;top:516.58px">外</div>
<div class="sn" style="left:210px;top:516.58px">澳</div>
<div class="rd" style="left:227.6px;top:516.58px">わいあぉ</div>
<div class="mk" style="left:302.5px;top:516.58px">〃</div>
<div class="km" style="left:122.4px;top:530.36px">120.0</div>
<div class="sn" style="left:171px;top:530.36px">亀</div>
<div class="sn" style="left:210px;top:530.36px">山</div>
<div class="rd" style="left:227.6px;top:530.36px">げいしゃん</div>
<div class="mk" style="left:302.5px;top:530.36px">〃</div>
<div class="km" style="left:122.4px;top:544.14px">124.6</div>
<div class="sn" style="left:171px;top:544.14px">大</div>
<div class="sn" style="left:210px;top:544.14px">渓</div>
<div class="rd" style="left:227.6px;top:544.14px">たーしー</div>
<div class="mk" style="left:302.5px;top:544.14px">〃</div>
<div class="km" style="left:122.4px;top:557.92px">129.3</div>
<div class="sn" style="left:171px;top:557.92px">大</div>
<div class="sn" style="left:210px;top:557.92px">里</div>
<div class="rd" style="left:227.6px;top:557.92px">たーりー</div>
<div class="mk" style="left:302.5px;top:557.92px">〃</div>
<div class="km" style="left:122.4px;top:571.7px">132.0</div>
<div class="sn" style="left:171px;top:571.7px">石</div>
<div class="sn" style="left:210px;top:571.7px">城</div>
<div class="rd" style="left:227.6px;top:571.7px">しーしぇん</div>
<div class="mk" style="left:302.5px;top:571.7px">〃</div>
<div class="km" style="left:122.4px;top:585.48px">137.4</div>
<div class="sn" style="left:171px;top:585.48px">福</div>
<div class="sn" style="left:210px;top:585.48px">隆</div>
<div class="rd" style="left:227.6px;top:585.48px">ふぅろん</div>
<div class="mk" style="left:302.5px;top:585.48px">〃</div>
<div class="km" style="left:122.4px;top:599.26px">141.1</div>
<div class="sn" style="left:171px;top:599.26px">貢</div>
<div class="sn" style="left:210px;top:599.26px">寮</div>
<div class="rd" style="left:227.6px;top:599.26px">ごんりゃお</div>
<div class="mk" style="left:302.5px;top:599.26px">〃</div>
<div class="km" style="left:122.4px;top:613.04px">146.5</div>
<div class="sn" style="left:171px;top:613.04px">雙</div>
<div class="sn" style="left:210px;top:613.04px">渓</div>
<div class="rd" style="left:227.6px;top:613.04px">しゅあんしー</div>
<div class="mk" style="left:302.5px;top:613.04px">〃</div>
<div class="km" style="left:122.4px;top:626.82px">149.8</div>
<div class="sn" style="left:171px;top:626.82px">牡</div>
<div class="sn" style="left:210px;top:626.82px">丹</div>
<div class="rd" style="left:227.6px;top:626.82px">むーだん</div>
<div class="mk" style="left:302.5px;top:626.82px">〃</div>
<div class="km" style="left:122.4px;top:640.6px">153.4</div>
<div class="sn" style="left:171px;top:640.6px">三</div>
<div class="sn" style="left:190.5px;top:640.6px">貂</div>
<div class="sn" style="left:210px;top:640.6px">嶺</div>
<div class="rd" style="left:227.6px;top:640.6px">さんでぃぁおりん</div>
<div class="mk" style="left:302.5px;top:640.6px">〃</div>
<div class="km" style="left:122.4px;top:654.38px">155.9</div>
<div class="sn" style="left:171px;top:654.38px">猴</div>
<div class="sn" style="left:210px;top:654.38px">硐</div>
<div class="rd" style="left:227.6px;top:654.38px">ほうとん</div>
<div class="mk" style="left:302.5px;top:654.38px">〃</div>
<div class="km" style="left:122.4px;top:675.05px">160.5</div>
<div class="a" style="left:168.4px;top:666.36px;font:500 18.6px/27.56px 'Noto Sans CJK JP','Noto Sans CJK SC',sans-serif">瑞</div>
<div class="a" style="left:206.4px;top:666.36px;font:500 18.6px/27.56px 'Noto Sans CJK JP','Noto Sans CJK SC',sans-serif">芳</div>
<div class="a" style="left:228.6px;top:667.96px;font:400 11.9px/27.56px 'Noto Sans CJK JP','Noto Sans CJK SC',sans-serif">るいふぁん</div>
<div class="mj" style="left:302.4px;top:668.16px">着</div>
<div class="mj" style="left:302.4px;top:681.94px">発</div>
<div class="km" style="left:122.4px;top:695.72px">165.5</div>
<div class="sn" style="left:171px;top:695.72px">四</div>
<div class="sn" style="left:190.5px;top:695.72px">脚</div>
<div class="sn" style="left:210px;top:695.72px">亭</div>
<div class="rd" style="left:227.6px;top:695.72px">すーちゃおてぃん</div>
<div class="mk" style="left:302.5px;top:695.72px">〃</div>
<div class="km" style="left:122.4px;top:709.5px">167.8</div>
<div class="sn" style="left:171px;top:709.5px">暖</div>
<div class="sn" style="left:210px;top:709.5px">暖</div>
<div class="rd" style="left:227.6px;top:709.5px">ぬぁんぬぁん</div>
<div class="mk" style="left:302.5px;top:709.5px">〃</div>
<div class="km" style="left:94.9px;top:723.28px">0.0</div>
<div class="km" style="left:122.4px;top:723.28px">173.4</div>
<div class="sn" style="left:171px;top:723.28px;font-weight:900">基</div>
<div class="sn" style="left:210px;top:723.28px;font-weight:900">隆</div>
<div class="rdb" style="left:227.6px;top:723.28px">きーるん</div>
<div class="mj" style="left:302.4px;top:723.28px">発</div>
<div class="km" style="left:94.9px;top:737.06px">1.3</div>
<div class="km" style="left:122.4px;top:737.06px">172.1</div>
<div class="sn" style="left:171px;top:737.06px">三</div>
<div class="sn" style="left:210px;top:737.06px">坑</div>
<div class="rd" style="left:227.6px;top:737.06px">さんこん</div>
<div class="mk" style="left:302.5px;top:737.06px">〃</div>
<div class="km" style="left:94.9px;top:750.84px">3.7</div>
<div class="km" style="left:122.4px;top:750.84px">169.4</div>
<div class="sn" style="left:171px;top:750.84px">八</div>
<div class="sn" style="left:210px;top:750.84px">堵</div>
<div class="rd" style="left:227.6px;top:750.84px">ばーどぅ</div>
<div class="mk" style="left:302.5px;top:750.84px">〃</div>
<div class="km" style="left:94.9px;top:771.51px">6.0</div>
<div class="km" style="left:122.4px;top:771.51px">171.7</div>
<div class="a" style="left:168.4px;top:762.82px;font:500 18.6px/27.56px 'Noto Sans CJK JP','Noto Sans CJK SC',sans-serif">七</div>
<div class="a" style="left:206.4px;top:762.82px;font:500 18.6px/27.56px 'Noto Sans CJK JP','Noto Sans CJK SC',sans-serif">堵</div>
<div class="a" style="left:228.6px;top:764.42px;font:400 11.9px/27.56px 'Noto Sans CJK JP','Noto Sans CJK SC',sans-serif">ちーどぅ</div>
<div class="mj" style="left:302.4px;top:764.62px">着</div>
<div class="mj" style="left:302.4px;top:778.4px">発</div>
<div class="km" style="left:94.9px;top:792.18px">8.7</div>
<div class="km" style="left:122.4px;top:792.18px">174.4</div>
<div class="sn" style="left:171px;top:792.18px">百</div>
<div class="sn" style="left:210px;top:792.18px">福</div>
<div class="rd" style="left:227.6px;top:792.18px">ばいふー</div>
<div class="mk" style="left:302.5px;top:792.18px">〃</div>
<div class="km" style="left:94.9px;top:805.96px">11.7</div>
<div class="km" style="left:122.4px;top:805.96px">177.4</div>
<div class="sn" style="left:171px;top:805.96px">五</div>
<div class="sn" style="left:210px;top:805.96px">堵</div>
<div class="rd" style="left:227.6px;top:805.96px">うーどぅ</div>
<div class="mk" style="left:302.5px;top:805.96px">〃</div>
<div class="km" style="left:94.9px;top:819.74px">13.1</div>
<div class="km" style="left:122.4px;top:819.74px">178.8</div>
<div class="sn" style="left:171px;top:819.74px">汐</div>
<div class="sn" style="left:210px;top:819.74px">止</div>
<div class="rd" style="left:227.6px;top:819.74px">しーじぃ</div>
<div class="mk" style="left:302.5px;top:819.74px">〃</div>
<div class="km" style="left:94.9px;top:833.52px">14.6</div>
<div class="km" style="left:122.4px;top:833.52px">180.3</div>
<div class="sn" style="left:171px;top:833.52px">汐</div>
<div class="sn" style="left:210px;top:833.52px">科</div>
<div class="rd" style="left:227.6px;top:833.52px">しーけ</div>
<div class="mk" style="left:302.5px;top:833.52px">〃</div>
<div class="km" style="left:94.9px;top:847.3px">19.1</div>
<div class="km" style="left:122.4px;top:847.3px">184.8</div>
<div class="sn" style="left:171px;top:847.3px">南</div>
<div class="sn" style="left:210px;top:847.3px">港</div>
<div class="rd" style="left:227.6px;top:847.3px">なんがん</div>
<div class="mk" style="left:302.5px;top:847.3px">〃</div>
<div class="km" style="left:94.9px;top:861.08px">21.9</div>
<div class="km" style="left:122.4px;top:861.08px">187.6</div>
<div class="sn" style="left:171px;top:861.08px">松</div>
<div class="sn" style="left:210px;top:861.08px">山</div>
<div class="rd" style="left:227.6px;top:861.08px">そんしゃん</div>
<div class="mk" style="left:302.5px;top:861.08px">〃</div>
<div class="km" style="left:94.9px;top:881.75px">28.3</div>
<div class="km" style="left:122.4px;top:881.75px">194.0</div>
<div class="a" style="left:168.4px;top:873.06px;font:500 18.6px/27.56px 'Noto Sans CJK JP','Noto Sans CJK SC',sans-serif">台</div>
<div class="a" style="left:206.4px;top:873.06px;font:500 18.6px/27.56px 'Noto Sans CJK JP','Noto Sans CJK SC',sans-serif">北</div>
<div class="a" style="left:228.6px;top:874.66px;font:400 11.9px/27.56px 'Noto Sans CJK JP','Noto Sans CJK SC',sans-serif">たいぺい</div>
<div class="mj" style="left:302.4px;top:874.86px">着</div>
<div class="mj" style="left:302.4px;top:888.64px">発</div>
<div class="km" style="left:94.9px;top:902.42px">31.1</div>
<div class="km" style="left:122.4px;top:902.42px">196.8</div>
<div class="sn" style="left:171px;top:902.42px">万</div>
<div class="sn" style="left:210px;top:902.42px">華</div>
<div class="rd" style="left:227.6px;top:902.42px">わんふぁ</div>
<div class="mk" style="left:302.5px;top:902.42px">〃</div>
<div class="km" style="left:94.9px;top:916.2px">35.5</div>
<div class="km" style="left:122.4px;top:916.2px">201.2</div>
<div class="sn" style="left:171px;top:916.2px">板</div>
<div class="sn" style="left:210px;top:916.2px">橋</div>
<div class="rd" style="left:227.6px;top:916.2px">ばんちゃお</div>
<div class="mk" style="left:302.5px;top:916.2px">〃</div>
<div class="km" style="left:94.9px;top:929.98px">38.0</div>
<div class="km" style="left:122.4px;top:929.98px">203.7</div>
<div class="sn" style="left:171px;top:929.98px">浮</div>
<div class="sn" style="left:210px;top:929.98px">洲</div>
<div class="rd" style="left:227.6px;top:929.98px">ふーちょう</div>
<div class="mk" style="left:302.5px;top:929.98px">〃</div>
<div class="km" style="left:94.9px;top:950.65px">40.9</div>
<div class="km" style="left:122.4px;top:950.65px">206.6</div>
<div class="a" style="left:168.4px;top:941.96px;font:500 18.6px/27.56px 'Noto Sans CJK JP','Noto Sans CJK SC',sans-serif">樹</div>
<div class="a" style="left:206.4px;top:941.96px;font:500 18.6px/27.56px 'Noto Sans CJK JP','Noto Sans CJK SC',sans-serif">林</div>
<div class="a" style="left:228.6px;top:943.56px;font:400 11.9px/27.56px 'Noto Sans CJK JP','Noto Sans CJK SC',sans-serif">しゅーりん</div>
<div class="mj" style="left:302.4px;top:943.76px">着</div>
<div class="mj" style="left:302.4px;top:957.54px">発</div>
<div class="km" style="left:94.9px;top:971.32px">42.9</div>
<div class="km" style="left:122.4px;top:971.32px">208.6</div>
<div class="sn" style="left:171px;top:971.32px">南</div>
<div class="sn" style="left:190.5px;top:971.32px">樹</div>
<div class="sn" style="left:210px;top:971.32px">林</div>
<div class="rd" style="left:227.6px;top:971.32px">なんしゅーりん</div>
<div class="mk" style="left:302.5px;top:971.32px">〃</div>
<div class="km" style="left:94.9px;top:985.1px">44.8</div>
<div class="km" style="left:122.4px;top:985.1px">210.5</div>
<div class="sn" style="left:171px;top:985.1px">山</div>
<div class="sn" style="left:210px;top:985.1px">佳</div>
<div class="rd" style="left:227.6px;top:985.1px">しゃんじゃー</div>
<div class="mk" style="left:302.5px;top:985.1px">〃</div>
<div class="km" style="left:94.9px;top:998.88px">49.2</div>
<div class="km" style="left:122.4px;top:998.88px">214.9</div>
<div class="sn" style="left:171px;top:998.88px">鶯</div>
<div class="sn" style="left:210px;top:998.88px">歌</div>
<div class="rd" style="left:227.6px;top:998.88px">いんがー</div>
<div class="mk" style="left:302.5px;top:998.88px">〃</div>
<div class="km" style="left:94.9px;top:1012.66px">57.4</div>
<div class="km" style="left:122.4px;top:1012.66px">223.1</div>
<div class="sn" style="left:171px;top:1012.66px">桃</div>
<div class="sn" style="left:210px;top:1012.66px">園</div>
<div class="rd" style="left:227.6px;top:1012.66px">たぉゆぇん</div>
<div class="mk" style="left:302.5px;top:1012.66px">〃</div>
<div class="km" style="left:94.9px;top:1026.44px">63.3</div>
<div class="km" style="left:122.4px;top:1026.44px">229.0</div>
<div class="sn" style="left:171px;top:1026.44px">内</div>
<div class="sn" style="left:210px;top:1026.44px">壢</div>
<div class="rd" style="left:227.6px;top:1026.44px">ねいりー</div>
<div class="mk" style="left:302.5px;top:1026.44px">〃</div>
<div class="km" style="left:94.9px;top:1040.22px">67.3</div>
<div class="km" style="left:122.4px;top:1040.22px">233.0</div>
<div class="sn" style="left:171px;top:1040.22px">中</div>
<div class="sn" style="left:210px;top:1040.22px">壢</div>
<div class="rd" style="left:227.6px;top:1040.22px">じょんりー</div>
<div class="mk" style="left:302.5px;top:1040.22px">〃</div>
<div class="km" style="left:94.9px;top:1054px">73.1</div>
<div class="km" style="left:122.4px;top:1054px">238.8</div>
<div class="sn" style="left:171px;top:1054px">埔</div>
<div class="sn" style="left:210px;top:1054px">心</div>
<div class="rd" style="left:227.6px;top:1054px">ぷーしん</div>
<div class="mk" style="left:302.5px;top:1054px">〃</div>
<div class="km" style="left:94.9px;top:1067.78px">77.1</div>
<div class="km" style="left:122.4px;top:1067.78px">242.8</div>
<div class="sn" style="left:171px;top:1067.78px">楊</div>
<div class="sn" style="left:210px;top:1067.78px">梅</div>
<div class="rd" style="left:227.6px;top:1067.78px">やんめい</div>
<div class="mk" style="left:302.5px;top:1067.78px">〃</div>
<div class="km" style="left:94.9px;top:1081.56px">78.8</div>
<div class="km" style="left:122.4px;top:1081.56px">249.6</div>
<div class="sn" style="left:171px;top:1081.56px">富</div>
<div class="sn" style="left:210px;top:1081.56px">岡</div>
<div class="rd" style="left:227.6px;top:1081.56px">ふーがん</div>
<div class="mk" style="left:302.5px;top:1081.56px">〃</div>
<div class="km" style="left:94.9px;top:1095.34px">80.5</div>
<div class="km" style="left:122.4px;top:1095.34px">251.3</div>
<div class="sn" style="left:171px;top:1095.34px">新</div>
<div class="sn" style="left:210px;top:1095.34px">富</div>
<div class="rd" style="left:227.6px;top:1095.34px">しんふー</div>
<div class="mk" style="left:302.5px;top:1095.34px">〃</div>
<div class="km" style="left:94.9px;top:1109.12px">83.9</div>
<div class="km" style="left:122.4px;top:1109.12px">253.2</div>
<div class="sn" style="left:171px;top:1109.12px">北</div>
<div class="sn" style="left:210px;top:1109.12px">湖</div>
<div class="rd" style="left:227.6px;top:1109.12px">べいふー</div>
<div class="mk" style="left:302.5px;top:1109.12px">〃</div>
<div class="km" style="left:94.9px;top:1122.9px">87.5</div>
<div class="km" style="left:122.4px;top:1122.9px">255.3</div>
<div class="sn" style="left:171px;top:1122.9px">湖</div>
<div class="sn" style="left:210px;top:1122.9px">口</div>
<div class="rd" style="left:227.6px;top:1122.9px">ふーこう</div>
<div class="mk" style="left:302.5px;top:1122.9px">〃</div>
<div class="km" style="left:94.9px;top:1136.68px">89.6</div>
<div class="km" style="left:122.4px;top:1136.68px">261.5</div>
<div class="sn" style="left:171px;top:1136.68px">新</div>
<div class="sn" style="left:210px;top:1136.68px">豊</div>
<div class="rd" style="left:227.6px;top:1136.68px">しんふぉん</div>
<div class="mk" style="left:302.5px;top:1136.68px">〃</div>
<div class="km" style="left:94.9px;top:1150.46px">95.8</div>
<div class="km" style="left:122.4px;top:1150.46px">266.3</div>
<div class="sn" style="left:171px;top:1150.46px">竹</div>
<div class="sn" style="left:210px;top:1150.46px">北</div>
<div class="rd" style="left:227.6px;top:1150.46px">じゅーべい</div>
<div class="mk" style="left:302.5px;top:1150.46px">〃</div>
<div class="km" style="left:94.9px;top:1164.24px">100.6</div>
<div class="km" style="left:122.4px;top:1164.24px">270.7</div>
<div class="sn" style="left:171px;top:1164.24px">北</div>
<div class="sn" style="left:190.5px;top:1164.24px">新</div>
<div class="sn" style="left:210px;top:1164.24px">竹</div>
<div class="rd" style="left:227.6px;top:1164.24px">べいしんちゅー</div>
<div class="mk" style="left:302.5px;top:1164.24px">〃</div>
<div class="km" style="left:94.9px;top:1178.02px">105.0</div>
<div class="km" style="left:122.4px;top:1178.02px">272.1</div>
<div class="sn" style="left:171px;top:1178.02px;font-weight:900">新</div>
<div class="sn" style="left:210px;top:1178.02px;font-weight:900">竹</div>
<div class="rdb" style="left:227.6px;top:1178.02px">しんちゅー</div>
<div class="mj" style="left:302.4px;top:1178.02px">着</div>
<div class="km" style="left:94.9px;top:1191.8px">106.4</div>
<div class="km" style="left:122.4px;top:1191.8px">286.6</div>
<div class="sn" style="left:171px;top:1191.8px;font-weight:900">彰</div>
<div class="sn" style="left:210px;top:1191.8px;font-weight:900">化</div>
<div class="rdb" style="left:227.6px;top:1191.8px">じゃんふぁ</div>
<div class="mj" style="left:302.4px;top:1191.8px">着</div>
<div class="km" style="left:94.9px;top:1205.58px">210.9</div>
<div class="km" style="left:122.4px;top:1205.58px">565.5</div>
<div class="sn" style="left:171px;top:1205.58px;font-weight:900">高</div>
<div class="sn" style="left:210px;top:1205.58px;font-weight:900">雄</div>
<div class="rdb" style="left:227.6px;top:1205.58px">かぉしゅん</div>
<div class="mj" style="left:302.4px;top:1205.58px">着</div>
<div class="ln" style="left:116px;top:351px;width:17px;height:1px;background:#555"></div>
<div class="ln" style="left:116px;top:354px;width:17px;height:1px;background:#555"></div>
<div class="a " style="left:90.6px;top:205.2px;font:12.8px/16px 'Noto Serif CJK JP','Noto Serif CJK SC',serif;width:13px;text-align:center">北</div>
<div class="a " style="left:90.6px;top:233.2px;font:12.8px/16px 'Noto Serif CJK JP','Noto Serif CJK SC',serif;width:13px;text-align:center">廻</div>
<div class="a " style="left:90.6px;top:261.2px;font:12.8px/16px 'Noto Serif CJK JP','Noto Serif CJK SC',serif;width:13px;text-align:center">線</div>
<div class="a " style="left:90.6px;top:487.8px;font:12.8px/16px 'Noto Serif CJK JP','Noto Serif CJK SC',serif;width:13px;text-align:center">宜</div>
<div class="a " style="left:90.6px;top:515.8px;font:12.8px/16px 'Noto Serif CJK JP','Noto Serif CJK SC',serif;width:13px;text-align:center">蘭</div>
<div class="a " style="left:90.6px;top:543.8px;font:12.8px/16px 'Noto Serif CJK JP','Noto Serif CJK SC',serif;width:13px;text-align:center">線</div>
<div class="a " style="left:90.6px;top:935.2px;font:12.8px/16px 'Noto Serif CJK JP','Noto Serif CJK SC',serif;width:13px;text-align:center">縦</div>
<div class="a " style="left:90.6px;top:963.2px;font:12.8px/16px 'Noto Serif CJK JP','Noto Serif CJK SC',serif;width:13px;text-align:center">貫</div>
<div class="a " style="left:90.6px;top:991.2px;font:12.8px/16px 'Noto Serif CJK JP','Noto Serif CJK SC',serif;width:13px;text-align:center">線</div>
<div class="a " style="left:890.6px;top:27.6px;font:16.5px/20px 'Noto Sans CJK JP','Noto Sans CJK SC',sans-serif">〔</div>
<div class="a " style="left:928.3px;top:27.6px;font:16.5px/20px 'Noto Sans CJK JP','Noto Sans CJK SC',sans-serif">〕</div>
<div class="a " style="left:912.8px;top:26.2px;font:19.4px/22px 'Noto Sans CJK JP','Noto Sans CJK SC',sans-serif">3</div>
<div class="ln" style="left:979.5px;top:200.8px;width:41px;height:67px;background:#e60012"></div>
<div class="a " style="left:979.5px;top:209.5px;width:41px;text-align:center;font:bold 42.5px/48px 'Liberation Sans','Noto Sans CJK JP','Noto Sans CJK SC',sans-serif;color:#fff">2</div>
<svg class="a" style="left:950px;top:70px" width="24" height="24" viewBox="0 0 24 24"><path d="M8.6 4.7 A7.35 7.35 0 1 0 14.6 5.0" fill="none" stroke="#111" stroke-width="1.9"/><polygon points="12.0,4.0 16.6,4.6 15.3,9.6" fill="#111"/><path d="M13.6 4.3 L18.8 2.3" stroke="#111" stroke-width="1.3" fill="none"/></svg>
<div class="a " style="left:950.9px;top:96.9px;font:500 21.4px/22px 'Noto Sans CJK JP','Noto Sans CJK SC',sans-serif;width:22px;text-align:center">逆</div>
<div class="a " style="left:950.9px;top:118px;font:500 21.4px/22px 'Noto Sans CJK JP','Noto Sans CJK SC',sans-serif;width:22px;text-align:center">行</div>
<div class="a " style="left:950.9px;top:163.3px;font:500 21.4px/22px 'Noto Sans CJK JP','Noto Sans CJK SC',sans-serif;width:22px;text-align:center">北</div>
<div class="a " style="left:950.9px;top:185.2px;font:500 21.4px/22px 'Noto Sans CJK JP','Noto Sans CJK SC',sans-serif;width:22px;text-align:center">廻</div>
<div class="a " style="left:950.9px;top:208px;font:500 21.4px/22px 'Noto Sans CJK JP','Noto Sans CJK SC',sans-serif;width:22px;text-align:center">線</div>
<div class="a " style="left:950.9px;top:230.3px;font:500 21.4px/22px 'Noto Sans CJK JP','Noto Sans CJK SC',sans-serif;width:22px;text-align:center">・</div>
<div class="a " style="left:950.9px;top:254.2px;font:500 21.4px/22px 'Noto Sans CJK JP','Noto Sans CJK SC',sans-serif;width:22px;text-align:center">宜</div>
<div class="a " style="left:950.9px;top:276.3px;font:500 21.4px/22px 'Noto Sans CJK JP','Noto Sans CJK SC',sans-serif;width:22px;text-align:center">蘭</div>
<div class="a " style="left:950.9px;top:298.3px;font:500 21.4px/22px 'Noto Sans CJK JP','Noto Sans CJK SC',sans-serif;width:22px;text-align:center">線</div>
<div class="a " style="left:950.9px;top:320.3px;font:500 21.4px/22px 'Noto Sans CJK JP','Noto Sans CJK SC',sans-serif;width:22px;text-align:center">・</div>
<div class="a " style="left:950.9px;top:343.4px;font:500 21.4px/22px 'Noto Sans CJK JP','Noto Sans CJK SC',sans-serif;width:22px;text-align:center">縦</div>
<div class="a " style="left:950.9px;top:365.3px;font:500 21.4px/22px 'Noto Sans CJK JP','Noto Sans CJK SC',sans-serif;width:22px;text-align:center">貫</div>
<div class="a " style="left:950.9px;top:387.4px;font:500 21.4px/22px 'Noto Sans CJK JP','Noto Sans CJK SC',sans-serif;width:22px;text-align:center">線</div>
<div class="a " style="left:950.9px;top:409.9px;font:21.4px/22px 'Noto Serif CJK JP','Noto Serif CJK SC',serif;width:22px;text-align:center">︵</div>
<div class="a " style="left:950.9px;top:432.5px;font:21.4px/22px 'Noto Serif CJK JP','Noto Serif CJK SC',serif;width:22px;text-align:center">基</div>
<div class="a " style="left:950.9px;top:453.5px;font:21.4px/22px 'Noto Serif CJK JP','Noto Serif CJK SC',serif;width:22px;text-align:center">隆</div>
<div class="a " style="left:950.9px;top:474.3px;font:21.4px/22px 'Noto Serif CJK JP','Noto Serif CJK SC',serif;width:22px;text-align:center">↓</div>
<div class="a " style="left:950.9px;top:500.2px;font:21.4px/22px 'Noto Serif CJK JP','Noto Serif CJK SC',serif;width:22px;text-align:center">新</div>
<div class="a " style="left:950.9px;top:521.3px;font:21.4px/22px 'Noto Serif CJK JP','Noto Serif CJK SC',serif;width:22px;text-align:center">竹</div>
<div class="a " style="left:950.9px;top:543.8px;font:21.4px/22px 'Noto Serif CJK JP','Noto Serif CJK SC',serif;width:22px;text-align:center">︶</div>
<div class="a " style="left:950.9px;top:564.6px;font:21.4px/22px 'Noto Serif CJK JP','Noto Serif CJK SC',serif;width:22px;text-align:center">そ</div>
<div class="a " style="left:950.9px;top:585.2px;font:21.4px/22px 'Noto Serif CJK JP','Noto Serif CJK SC',serif;width:22px;text-align:center">の</div>
<div class="a " style="left:950.9px;top:611.6px;font:28px/22px 'Liberation Serif','Noto Serif CJK JP','Noto Serif CJK SC',serif;width:22px;text-align:center">1</div>
<svg class="a" style="left:720.29px;top:516.5px" width="31.03" height="7" viewBox="0 0 31 7"><path d="M3.5 6.5 Q15.5 -1.5 27.5 6.5" fill="none" stroke="#231f20" stroke-width="1.2"/></svg>
<svg class="a" style="left:720.29px;top:592.7px" width="31.03" height="7" viewBox="0 0 31 7"><path d="M3.5 0.5 Q15.5 8.5 27.5 0.5" fill="none" stroke="#231f20" stroke-width="1.2"/></svg>
<div class="a " style="left:720.29px;top:524.3px;width:31.03px;text-align:center;font:600 12px/13px 'Noto Serif CJK JP','Noto Serif CJK SC',serif">前</div>
<div class="a " style="left:720.29px;top:537.7px;width:31.03px;text-align:center;font:600 12px/13px 'Noto Serif CJK JP','Noto Serif CJK SC',serif">掲</div>
<div class="a " style="left:720.29px;top:551.1px;width:31.03px;text-align:center;font:600 12px/13px 'Noto Serif CJK JP','Noto Serif CJK SC',serif">載</div>
<div class="a " style="left:720.29px;top:565px;width:31.03px;text-align:center;font:12.8px/13px 'Liberation Serif','Noto Serif CJK JP','Noto Serif CJK SC',serif">50</div>
<div class="a " style="left:720.29px;top:577.9px;width:31.03px;text-align:center;font:600 12px/13px 'Noto Serif CJK JP','Noto Serif CJK SC',serif">頁</div>
<div class="a " style="left:735.79px;top:599.66px;font:600 12px/13px 'Noto Serif CJK JP','Noto Serif CJK SC',serif">菁</div>
<div class="a " style="left:735.79px;top:627.02px;font:600 12px/13px 'Noto Serif CJK JP','Noto Serif CJK SC',serif">桐</div>
<div class="a" style="left:722.89px;top:607.86px;font:12.4px/11px 'Liberation Sans','Noto Sans CJK JP','Noto Sans CJK SC',sans-serif;writing-mode:vertical-rl;text-orientation:mixed;letter-spacing:-.3px"><span style="display:inline-block;transform:scaleY(.9)">517</span><span style="font-family:'Noto Serif CJK JP','Noto Serif CJK SC',serif;font-size:11.8px">発</span></div>
<svg class="a" style="left:565.14px;top:806.56px" width="31" height="7" viewBox="0 0 31 7"><path d="M3 6 L5.5 1.2 L25.5 1.2 L28 6" fill="none" stroke="#1a84c7" stroke-width="1.1"/></svg>
<svg class="a" style="left:565.14px;top:853.48px" width="31" height="7" viewBox="0 0 31 7"><path d="M3 1 L5.5 5.8 L25.5 5.8 L28 1" fill="none" stroke="#1a84c7" stroke-width="1.1"/></svg>
<div class="a " style="left:565.74px;top:811.56px;width:31.03px;text-align:center;font:12px/13px 'Noto Sans CJK JP','Noto Sans CJK SC',sans-serif;color:#1a84c7">自</div>
<div class="a " style="left:565.74px;top:825.56px;width:31.03px;text-align:center;font:12px/13px 'Noto Sans CJK JP','Noto Sans CJK SC',sans-serif;color:#1a84c7">由</div>
<div class="a " style="left:565.74px;top:839.56px;width:31.03px;text-align:center;font:12px/13px 'Noto Sans CJK JP','Noto Sans CJK SC',sans-serif;color:#1a84c7">行</div>
<svg class="a" style="left:565px;top:858px" width="32" height="32" viewBox="0 0 1020 1020">
<g fill="#1a84c7" stroke="none">
<polygon points="770,235 700,240 630,280 590,320 430,325 380,365 440,405 690,405 790,320 840,260"/>
<polygon points="560,480 545,525 300,525 230,500 250,440 330,425 520,460"/>
<polygon points="250,440 195,465 150,560 195,690 250,700 262,600 300,525"/>
</g>
<g fill="none" stroke="#1a84c7" stroke-width="32" stroke-linecap="round" stroke-linejoin="round">
<circle cx="810" cy="180" r="62"/>
<path d="M150 565 Q95 610 120 665 Q150 720 215 705"/>
<path d="M875 295 L688 520 L688 900 L265 900 L265 700"/>
<path d="M850 250 L672 470" stroke-width="22"/>
</g>
<text x="478" y="895" font-size="360" font-weight="700" text-anchor="middle" fill="#1a84c7" font-family="Noto Sans CJK JP, Noto Sans CJK SC, sans-serif">全</text>
</svg>
<div class="a " style="left:409.99px;top:1260.3px;width:31.03px;text-align:center;font:13px/14px 'Noto Sans CJK JP','Noto Sans CJK SC',sans-serif">◆</div>
<svg class="a" style="left:409.99px;top:1272.9px" width="31.03" height="7" viewBox="0 0 31 7"><path d="M3.5 6.5 Q15.5 -1.5 27.5 6.5" fill="none" stroke="#231f20" stroke-width="1.2"/></svg>
<svg class="a" style="left:409.99px;top:1335.8px" width="31.03" height="7" viewBox="0 0 31 7"><path d="M3.5 0.5 Q15.5 8.5 27.5 0.5" fill="none" stroke="#231f20" stroke-width="1.2"/></svg>
<div class="a " style="left:425.59px;top:1280.4px;font:600 11.6px/13px 'Noto Serif CJK JP','Noto Serif CJK SC',serif">台</div>
<div class="a " style="left:425.59px;top:1294.2px;font:600 11.6px/13px 'Noto Serif CJK JP','Noto Serif CJK SC',serif">東</div>
<div class="a " style="left:425.59px;top:1308px;font:600 11.6px/13px 'Noto Serif CJK JP','Noto Serif CJK SC',serif">発</div>
<div class="a " style="left:413.39px;top:1280.6px;font:600 11.6px/13px 'Noto Serif CJK JP','Noto Serif CJK SC',serif">日</div>
<div class="a " style="left:413.39px;top:1294.4px;font:600 11.6px/13px 'Noto Serif CJK JP','Noto Serif CJK SC',serif">曜</div>
<div class="a " style="left:413.39px;top:1308.2px;font:600 11.6px/13px 'Noto Serif CJK JP','Noto Serif CJK SC',serif">運</div>
<div class="a " style="left:413.39px;top:1322px;font:600 11.6px/13px 'Noto Serif CJK JP','Noto Serif CJK SC',serif">転</div>
</body></html>
